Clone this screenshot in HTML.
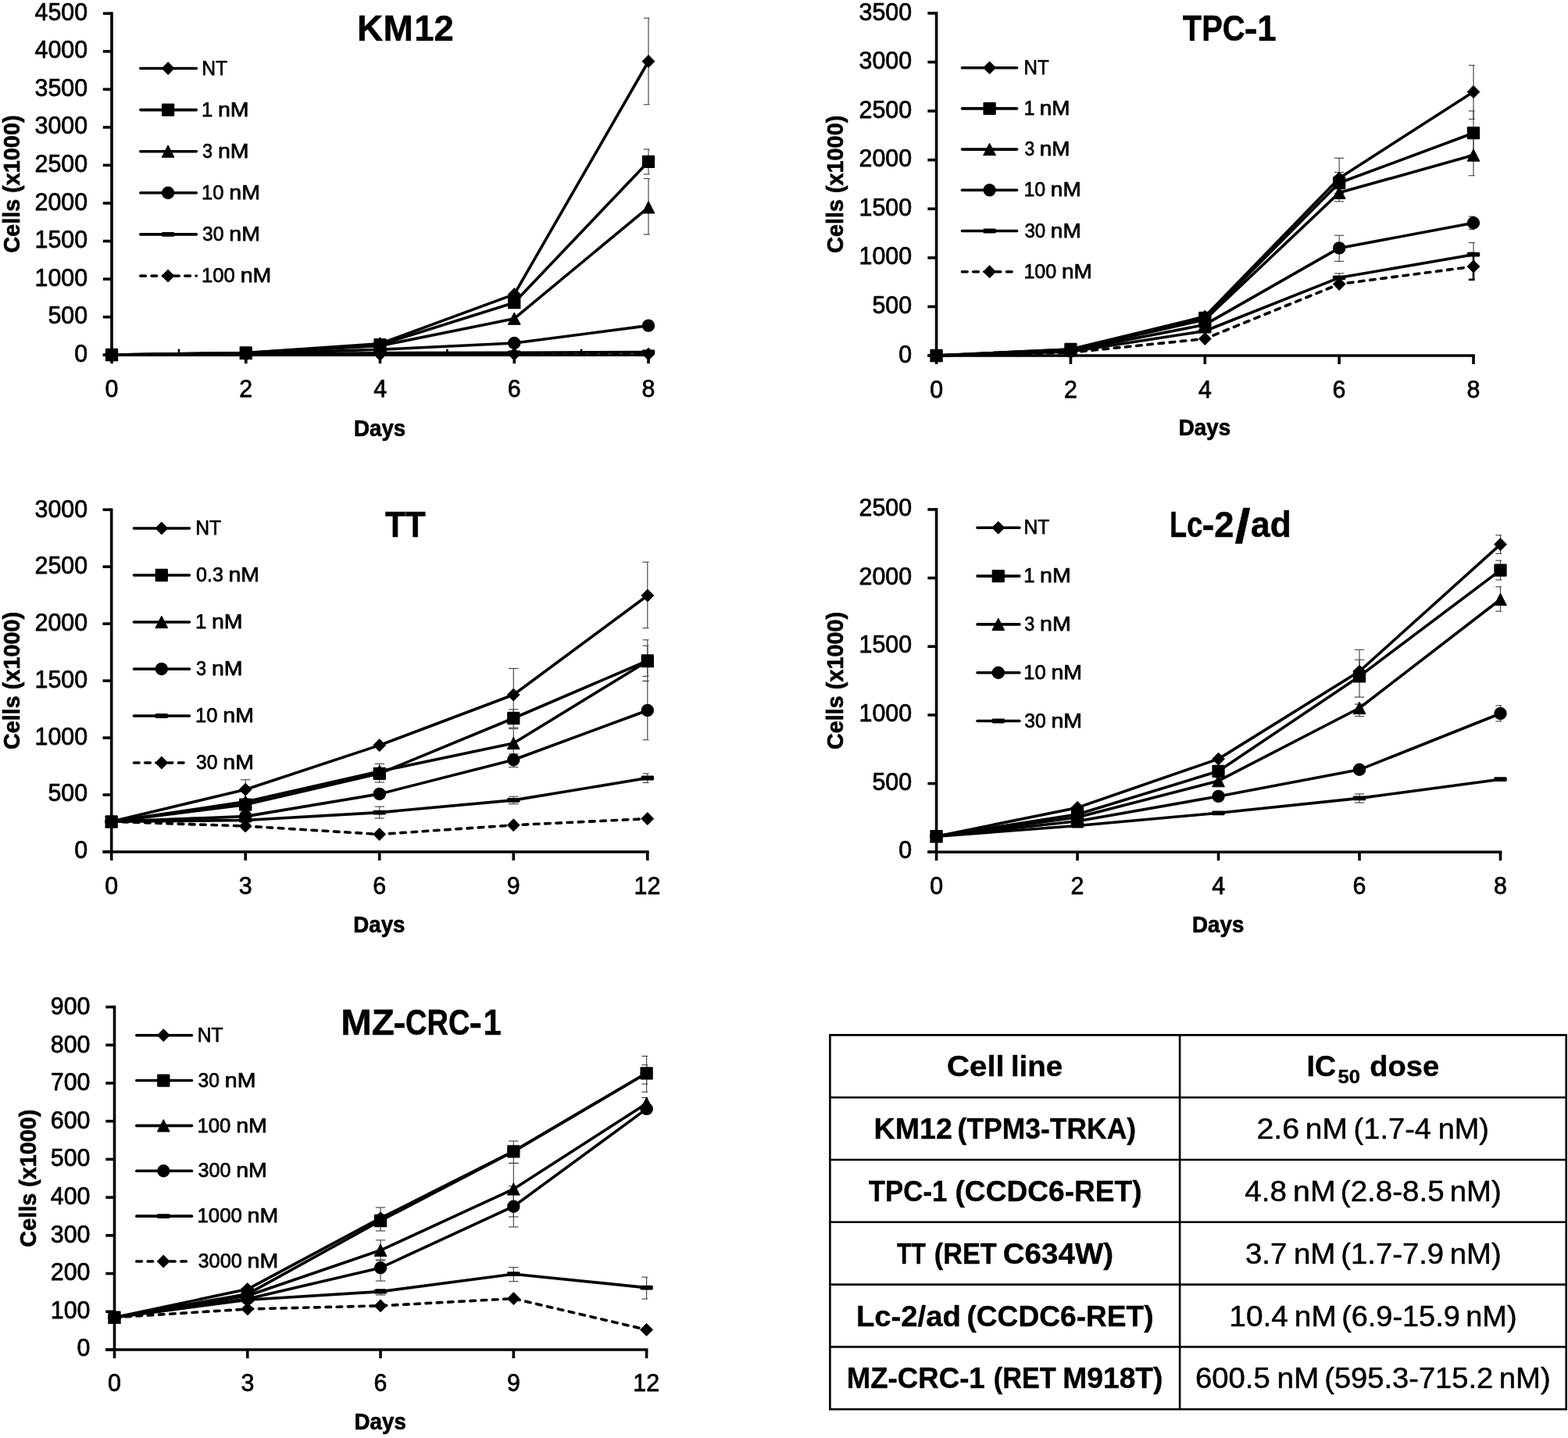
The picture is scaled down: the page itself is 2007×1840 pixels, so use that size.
<!DOCTYPE html>
<html lang="en"><head><meta charset="utf-8"><title>Cell growth curves and IC50 doses</title>
<style>
html,body{margin:0;padding:0;background:#fff;}
body{width:2007px;height:1840px;overflow:hidden;}
svg{display:block;font-family:"Liberation Sans",sans-serif;font-kerning:none;}
text{font-kerning:none;}
</style></head><body>
<svg width="2007" height="1840" viewBox="0 0 2007 1840">
<rect width="2007" height="1840" fill="#fff"/>
<line x1="143.00" y1="15.40" x2="143.00" y2="456.00" stroke="#000" stroke-width="3.60" stroke-linecap="butt"/>
<line x1="131.80" y1="454.20" x2="831.80" y2="454.20" stroke="#000" stroke-width="3.60" stroke-linecap="butt"/>
<line x1="131.80" y1="454.20" x2="143.00" y2="454.20" stroke="#000" stroke-width="3.60" stroke-linecap="butt"/>
<text x="95.28" y="462.80" textLength="16.90" lengthAdjust="spacingAndGlyphs" font-size="30.70" stroke="#000" stroke-width="0.75" stroke-linejoin="round">0</text>
<line x1="131.80" y1="405.64" x2="143.00" y2="405.64" stroke="#000" stroke-width="3.60" stroke-linecap="butt"/>
<text x="61.48" y="414.24" textLength="50.71" lengthAdjust="spacingAndGlyphs" font-size="30.70" stroke="#000" stroke-width="0.75" stroke-linejoin="round">500</text>
<line x1="131.80" y1="357.09" x2="143.00" y2="357.09" stroke="#000" stroke-width="3.60" stroke-linecap="butt"/>
<text x="44.57" y="365.69" textLength="67.61" lengthAdjust="spacingAndGlyphs" font-size="30.70" stroke="#000" stroke-width="0.75" stroke-linejoin="round">1000</text>
<line x1="131.80" y1="308.53" x2="143.00" y2="308.53" stroke="#000" stroke-width="3.60" stroke-linecap="butt"/>
<text x="44.57" y="317.13" textLength="67.61" lengthAdjust="spacingAndGlyphs" font-size="30.70" stroke="#000" stroke-width="0.75" stroke-linejoin="round">1500</text>
<line x1="131.80" y1="259.98" x2="143.00" y2="259.98" stroke="#000" stroke-width="3.60" stroke-linecap="butt"/>
<text x="44.57" y="268.58" textLength="67.61" lengthAdjust="spacingAndGlyphs" font-size="30.70" stroke="#000" stroke-width="0.75" stroke-linejoin="round">2000</text>
<line x1="131.80" y1="211.42" x2="143.00" y2="211.42" stroke="#000" stroke-width="3.60" stroke-linecap="butt"/>
<text x="44.57" y="220.02" textLength="67.61" lengthAdjust="spacingAndGlyphs" font-size="30.70" stroke="#000" stroke-width="0.75" stroke-linejoin="round">2500</text>
<line x1="131.80" y1="162.87" x2="143.00" y2="162.87" stroke="#000" stroke-width="3.60" stroke-linecap="butt"/>
<text x="44.57" y="171.47" textLength="67.61" lengthAdjust="spacingAndGlyphs" font-size="30.70" stroke="#000" stroke-width="0.75" stroke-linejoin="round">3000</text>
<line x1="131.80" y1="114.31" x2="143.00" y2="114.31" stroke="#000" stroke-width="3.60" stroke-linecap="butt"/>
<text x="44.57" y="122.91" textLength="67.61" lengthAdjust="spacingAndGlyphs" font-size="30.70" stroke="#000" stroke-width="0.75" stroke-linejoin="round">3500</text>
<line x1="131.80" y1="65.76" x2="143.00" y2="65.76" stroke="#000" stroke-width="3.60" stroke-linecap="butt"/>
<text x="44.57" y="74.36" textLength="67.61" lengthAdjust="spacingAndGlyphs" font-size="30.70" stroke="#000" stroke-width="0.75" stroke-linejoin="round">4000</text>
<line x1="131.80" y1="17.20" x2="143.00" y2="17.20" stroke="#000" stroke-width="3.60" stroke-linecap="butt"/>
<text x="44.57" y="25.80" textLength="67.61" lengthAdjust="spacingAndGlyphs" font-size="30.70" stroke="#000" stroke-width="0.75" stroke-linejoin="round">4500</text>
<line x1="143.00" y1="454.20" x2="143.00" y2="465.20" stroke="#000" stroke-width="3.60" stroke-linecap="butt"/>
<text x="134.55" y="507.80" textLength="16.90" lengthAdjust="spacingAndGlyphs" font-size="30.70" stroke="#000" stroke-width="0.75" stroke-linejoin="round">0</text>
<line x1="314.75" y1="454.20" x2="314.75" y2="465.20" stroke="#000" stroke-width="3.60" stroke-linecap="butt"/>
<text x="306.30" y="507.80" textLength="16.90" lengthAdjust="spacingAndGlyphs" font-size="30.70" stroke="#000" stroke-width="0.75" stroke-linejoin="round">2</text>
<line x1="486.50" y1="454.20" x2="486.50" y2="465.20" stroke="#000" stroke-width="3.60" stroke-linecap="butt"/>
<text x="478.14" y="507.80" textLength="16.90" lengthAdjust="spacingAndGlyphs" font-size="30.70" stroke="#000" stroke-width="0.75" stroke-linejoin="round">4</text>
<line x1="658.25" y1="454.20" x2="658.25" y2="465.20" stroke="#000" stroke-width="3.60" stroke-linecap="butt"/>
<text x="649.69" y="507.80" textLength="16.90" lengthAdjust="spacingAndGlyphs" font-size="30.70" stroke="#000" stroke-width="0.75" stroke-linejoin="round">6</text>
<line x1="830.00" y1="454.20" x2="830.00" y2="465.20" stroke="#000" stroke-width="3.60" stroke-linecap="butt"/>
<text x="821.55" y="507.80" textLength="16.90" lengthAdjust="spacingAndGlyphs" font-size="30.70" stroke="#000" stroke-width="0.75" stroke-linejoin="round">8</text>
<line x1="229.00" y1="446.60" x2="229.00" y2="454.20" stroke="#000" stroke-width="2.60" stroke-linecap="butt"/>
<line x1="400.60" y1="446.60" x2="400.60" y2="454.20" stroke="#000" stroke-width="2.60" stroke-linecap="butt"/>
<line x1="572.40" y1="446.60" x2="572.40" y2="454.20" stroke="#000" stroke-width="2.60" stroke-linecap="butt"/>
<line x1="744.10" y1="446.60" x2="744.10" y2="454.20" stroke="#000" stroke-width="2.60" stroke-linecap="butt"/>
<text x="453.05" y="558.00" textLength="66.19" lengthAdjust="spacingAndGlyphs" font-size="30.40" font-weight="700" stroke="#000" stroke-width="0.70" stroke-linejoin="round">Days</text>
<text transform="translate(24.60 235.70) rotate(-90)" x="-87.93" y="0" textLength="176.12" lengthAdjust="spacingAndGlyphs" font-size="30.40" font-weight="700" stroke="#000" stroke-width="0.70" stroke-linejoin="round">Cells (x1000)</text>
<text y="52.00" font-size="46.90" font-weight="700" stroke="#000" stroke-width="0.50" stroke-linejoin="round"><tspan x="457.10" textLength="71.70" lengthAdjust="spacingAndGlyphs">KM</tspan><tspan x="530.27" textLength="50.47" lengthAdjust="spacingAndGlyphs">12</tspan></text>
<line x1="830.00" y1="23.20" x2="830.00" y2="133.80" stroke="#454545" stroke-width="1.15" stroke-linecap="butt"/>
<line x1="823.80" y1="23.20" x2="831.70" y2="23.20" stroke="#454545" stroke-width="1.15" stroke-linecap="butt"/>
<line x1="823.80" y1="133.80" x2="831.70" y2="133.80" stroke="#454545" stroke-width="1.15" stroke-linecap="butt"/>
<line x1="830.00" y1="191.00" x2="830.00" y2="223.00" stroke="#454545" stroke-width="1.15" stroke-linecap="butt"/>
<line x1="823.80" y1="191.00" x2="831.70" y2="191.00" stroke="#454545" stroke-width="1.15" stroke-linecap="butt"/>
<line x1="823.80" y1="223.00" x2="831.70" y2="223.00" stroke="#454545" stroke-width="1.15" stroke-linecap="butt"/>
<line x1="830.00" y1="228.50" x2="830.00" y2="300.00" stroke="#454545" stroke-width="1.15" stroke-linecap="butt"/>
<line x1="823.80" y1="228.50" x2="831.70" y2="228.50" stroke="#454545" stroke-width="1.15" stroke-linecap="butt"/>
<line x1="823.80" y1="300.00" x2="831.70" y2="300.00" stroke="#454545" stroke-width="1.15" stroke-linecap="butt"/>
<polyline fill="none" stroke="#000" stroke-width="3.60" stroke-linejoin="round" stroke-linecap="round" points="143.00,454.00 314.75,451.50 486.50,439.80 658.25,376.60 830.00,78.50"/>
<path d="M143.00 446.00L150.90 454.00L143.00 462.00L135.10 454.00Z" stroke-linejoin="round" stroke="#000" stroke-width="1"/>
<path d="M314.75 443.50L322.65 451.50L314.75 459.50L306.85 451.50Z" stroke-linejoin="round" stroke="#000" stroke-width="1"/>
<path d="M486.50 431.80L494.40 439.80L486.50 447.80L478.60 439.80Z" stroke-linejoin="round" stroke="#000" stroke-width="1"/>
<path d="M658.25 368.60L666.15 376.60L658.25 384.60L650.35 376.60Z" stroke-linejoin="round" stroke="#000" stroke-width="1"/>
<path d="M830.00 70.50L837.90 78.50L830.00 86.50L822.10 78.50Z" stroke-linejoin="round" stroke="#000" stroke-width="1"/>
<polyline fill="none" stroke="#000" stroke-width="3.60" stroke-linejoin="round" stroke-linecap="round" points="143.00,454.00 314.75,451.50 486.50,441.20 658.25,387.20 830.00,206.80"/>
<rect x="134.85" y="445.85" width="16.30" height="16.30" rx="1.2"/>
<rect x="306.60" y="443.35" width="16.30" height="16.30" rx="1.2"/>
<rect x="478.35" y="433.05" width="16.30" height="16.30" rx="1.2"/>
<rect x="650.10" y="379.05" width="16.30" height="16.30" rx="1.2"/>
<rect x="821.85" y="198.65" width="16.30" height="16.30" rx="1.2"/>
<polyline fill="none" stroke="#000" stroke-width="3.60" stroke-linejoin="round" stroke-linecap="round" points="143.00,454.00 314.75,452.00 486.50,442.50 658.25,407.70 830.00,265.30"/>
<path d="M143.00 446.10L150.90 461.60L135.10 461.60Z" stroke-linejoin="round" stroke="#000" stroke-width="1"/>
<path d="M314.75 444.10L322.65 459.60L306.85 459.60Z" stroke-linejoin="round" stroke="#000" stroke-width="1"/>
<path d="M486.50 434.60L494.40 450.10L478.60 450.10Z" stroke-linejoin="round" stroke="#000" stroke-width="1"/>
<path d="M658.25 399.80L666.15 415.30L650.35 415.30Z" stroke-linejoin="round" stroke="#000" stroke-width="1"/>
<path d="M830.00 257.40L837.90 272.90L822.10 272.90Z" stroke-linejoin="round" stroke="#000" stroke-width="1"/>
<polyline fill="none" stroke="#000" stroke-width="3.60" stroke-linejoin="round" stroke-linecap="round" points="143.00,454.00 314.75,452.50 486.50,447.30 658.25,439.00 830.00,416.60"/>
<circle cx="143.00" cy="454.00" r="8.20"/>
<circle cx="314.75" cy="452.50" r="8.20"/>
<circle cx="486.50" cy="447.30" r="8.20"/>
<circle cx="658.25" cy="439.00" r="8.20"/>
<circle cx="830.00" cy="416.60" r="8.20"/>
<polyline fill="none" stroke="#000" stroke-width="3.60" stroke-linejoin="round" stroke-linecap="round" points="143.00,454.00 314.75,453.00 486.50,451.70 658.25,451.30 830.00,450.50"/>
<rect x="134.80" y="451.10" width="16.40" height="5.80" rx="1.4"/>
<rect x="306.55" y="450.10" width="16.40" height="5.80" rx="1.4"/>
<rect x="478.30" y="448.80" width="16.40" height="5.80" rx="1.4"/>
<rect x="650.05" y="448.40" width="16.40" height="5.80" rx="1.4"/>
<rect x="821.80" y="447.60" width="16.40" height="5.80" rx="1.4"/>
<polyline fill="none" stroke="#000" stroke-width="3.60" stroke-linejoin="round" stroke-linecap="round" stroke-dasharray="6.6 7.65" points="143.00,454.00 314.75,453.80 486.50,453.50 658.25,453.20 830.00,453.00"/>
<path d="M143.00 446.00L150.90 454.00L143.00 462.00L135.10 454.00Z" stroke-linejoin="round" stroke="#000" stroke-width="1"/>
<path d="M314.75 445.80L322.65 453.80L314.75 461.80L306.85 453.80Z" stroke-linejoin="round" stroke="#000" stroke-width="1"/>
<path d="M486.50 445.50L494.40 453.50L486.50 461.50L478.60 453.50Z" stroke-linejoin="round" stroke="#000" stroke-width="1"/>
<path d="M658.25 445.20L666.15 453.20L658.25 461.20L650.35 453.20Z" stroke-linejoin="round" stroke="#000" stroke-width="1"/>
<path d="M830.00 445.00L837.90 453.00L830.00 461.00L822.10 453.00Z" stroke-linejoin="round" stroke="#000" stroke-width="1"/>
<line x1="179.80" y1="87.50" x2="251.30" y2="87.50" stroke="#000" stroke-width="3.60" stroke-linecap="round"/>
<path d="M215.10 79.50L223.00 87.50L215.10 95.50L207.20 87.50Z" stroke-linejoin="round" stroke="#000" stroke-width="1"/>
<text y="95.60" font-size="26.30" stroke="#000" stroke-width="0.75" stroke-linejoin="round"><tspan x="258.18" textLength="32.89" lengthAdjust="spacingAndGlyphs">NT</tspan></text>
<line x1="179.80" y1="140.60" x2="251.30" y2="140.60" stroke="#000" stroke-width="3.60" stroke-linecap="round"/>
<rect x="206.95" y="132.45" width="16.30" height="16.30" rx="1.2"/>
<text y="148.70" font-size="26.30" stroke="#000" stroke-width="0.75" stroke-linejoin="round"><tspan x="258.04" textLength="14.32" lengthAdjust="spacingAndGlyphs">1</tspan> <tspan x="278.91" textLength="39.64" lengthAdjust="spacingAndGlyphs">nM</tspan></text>
<line x1="179.80" y1="193.70" x2="251.30" y2="193.70" stroke="#000" stroke-width="3.60" stroke-linecap="round"/>
<path d="M215.10 185.80L223.00 201.30L207.20 201.30Z" stroke-linejoin="round" stroke="#000" stroke-width="1"/>
<text y="201.80" font-size="26.30" stroke="#000" stroke-width="0.75" stroke-linejoin="round"><tspan x="259.11" textLength="13.02" lengthAdjust="spacingAndGlyphs">3</tspan> <tspan x="278.91" textLength="39.64" lengthAdjust="spacingAndGlyphs">nM</tspan></text>
<line x1="179.80" y1="246.80" x2="251.30" y2="246.80" stroke="#000" stroke-width="3.60" stroke-linecap="round"/>
<circle cx="215.10" cy="246.80" r="8.20"/>
<text y="254.90" font-size="26.30" stroke="#000" stroke-width="0.75" stroke-linejoin="round"><tspan x="258.05" textLength="28.45" lengthAdjust="spacingAndGlyphs">10</tspan> <tspan x="293.31" textLength="39.64" lengthAdjust="spacingAndGlyphs">nM</tspan></text>
<line x1="179.80" y1="299.90" x2="251.30" y2="299.90" stroke="#000" stroke-width="3.60" stroke-linecap="round"/>
<rect x="206.90" y="297.00" width="16.40" height="5.80" rx="1.4"/>
<text y="308.00" font-size="26.30" stroke="#000" stroke-width="0.75" stroke-linejoin="round"><tspan x="259.06" textLength="27.40" lengthAdjust="spacingAndGlyphs">30</tspan> <tspan x="293.31" textLength="39.64" lengthAdjust="spacingAndGlyphs">nM</tspan></text>
<line x1="179.80" y1="353.00" x2="251.30" y2="353.00" stroke="#000" stroke-width="3.60" stroke-linecap="round" stroke-dasharray="6.6 7.65"/>
<path d="M215.10 345.00L223.00 353.00L215.10 361.00L207.20 353.00Z" stroke-linejoin="round" stroke="#000" stroke-width="1"/>
<text y="361.10" font-size="26.30" stroke="#000" stroke-width="0.75" stroke-linejoin="round"><tspan x="258.04" textLength="42.86" lengthAdjust="spacingAndGlyphs">100</tspan> <tspan x="307.71" textLength="39.64" lengthAdjust="spacingAndGlyphs">nM</tspan></text>
<line x1="1198.60" y1="15.10" x2="1198.60" y2="456.80" stroke="#000" stroke-width="3.60" stroke-linecap="butt"/>
<line x1="1187.40" y1="455.00" x2="1887.80" y2="455.00" stroke="#000" stroke-width="3.60" stroke-linecap="butt"/>
<line x1="1187.40" y1="455.00" x2="1198.60" y2="455.00" stroke="#000" stroke-width="3.60" stroke-linecap="butt"/>
<text x="1150.28" y="463.60" textLength="16.90" lengthAdjust="spacingAndGlyphs" font-size="30.70" stroke="#000" stroke-width="0.75" stroke-linejoin="round">0</text>
<line x1="1187.40" y1="392.41" x2="1198.60" y2="392.41" stroke="#000" stroke-width="3.60" stroke-linecap="butt"/>
<text x="1116.48" y="401.01" textLength="50.71" lengthAdjust="spacingAndGlyphs" font-size="30.70" stroke="#000" stroke-width="0.75" stroke-linejoin="round">500</text>
<line x1="1187.40" y1="329.83" x2="1198.60" y2="329.83" stroke="#000" stroke-width="3.60" stroke-linecap="butt"/>
<text x="1099.57" y="338.43" textLength="67.61" lengthAdjust="spacingAndGlyphs" font-size="30.70" stroke="#000" stroke-width="0.75" stroke-linejoin="round">1000</text>
<line x1="1187.40" y1="267.24" x2="1198.60" y2="267.24" stroke="#000" stroke-width="3.60" stroke-linecap="butt"/>
<text x="1099.57" y="275.84" textLength="67.61" lengthAdjust="spacingAndGlyphs" font-size="30.70" stroke="#000" stroke-width="0.75" stroke-linejoin="round">1500</text>
<line x1="1187.40" y1="204.66" x2="1198.60" y2="204.66" stroke="#000" stroke-width="3.60" stroke-linecap="butt"/>
<text x="1099.57" y="213.26" textLength="67.61" lengthAdjust="spacingAndGlyphs" font-size="30.70" stroke="#000" stroke-width="0.75" stroke-linejoin="round">2000</text>
<line x1="1187.40" y1="142.07" x2="1198.60" y2="142.07" stroke="#000" stroke-width="3.60" stroke-linecap="butt"/>
<text x="1099.57" y="150.67" textLength="67.61" lengthAdjust="spacingAndGlyphs" font-size="30.70" stroke="#000" stroke-width="0.75" stroke-linejoin="round">2500</text>
<line x1="1187.40" y1="79.49" x2="1198.60" y2="79.49" stroke="#000" stroke-width="3.60" stroke-linecap="butt"/>
<text x="1099.57" y="88.09" textLength="67.61" lengthAdjust="spacingAndGlyphs" font-size="30.70" stroke="#000" stroke-width="0.75" stroke-linejoin="round">3000</text>
<line x1="1187.40" y1="16.90" x2="1198.60" y2="16.90" stroke="#000" stroke-width="3.60" stroke-linecap="butt"/>
<text x="1099.57" y="25.50" textLength="67.61" lengthAdjust="spacingAndGlyphs" font-size="30.70" stroke="#000" stroke-width="0.75" stroke-linejoin="round">3500</text>
<line x1="1198.60" y1="455.00" x2="1198.60" y2="466.00" stroke="#000" stroke-width="3.60" stroke-linecap="butt"/>
<text x="1190.15" y="508.60" textLength="16.90" lengthAdjust="spacingAndGlyphs" font-size="30.70" stroke="#000" stroke-width="0.75" stroke-linejoin="round">0</text>
<line x1="1370.45" y1="455.00" x2="1370.45" y2="466.00" stroke="#000" stroke-width="3.60" stroke-linecap="butt"/>
<text x="1362.00" y="508.60" textLength="16.90" lengthAdjust="spacingAndGlyphs" font-size="30.70" stroke="#000" stroke-width="0.75" stroke-linejoin="round">2</text>
<line x1="1542.30" y1="455.00" x2="1542.30" y2="466.00" stroke="#000" stroke-width="3.60" stroke-linecap="butt"/>
<text x="1533.94" y="508.60" textLength="16.90" lengthAdjust="spacingAndGlyphs" font-size="30.70" stroke="#000" stroke-width="0.75" stroke-linejoin="round">4</text>
<line x1="1714.15" y1="455.00" x2="1714.15" y2="466.00" stroke="#000" stroke-width="3.60" stroke-linecap="butt"/>
<text x="1705.59" y="508.60" textLength="16.90" lengthAdjust="spacingAndGlyphs" font-size="30.70" stroke="#000" stroke-width="0.75" stroke-linejoin="round">6</text>
<line x1="1886.00" y1="455.00" x2="1886.00" y2="466.00" stroke="#000" stroke-width="3.60" stroke-linecap="butt"/>
<text x="1877.55" y="508.60" textLength="16.90" lengthAdjust="spacingAndGlyphs" font-size="30.70" stroke="#000" stroke-width="0.75" stroke-linejoin="round">8</text>
<text x="1508.85" y="557.00" textLength="66.19" lengthAdjust="spacingAndGlyphs" font-size="30.40" font-weight="700" stroke="#000" stroke-width="0.70" stroke-linejoin="round">Days</text>
<text transform="translate(1079.00 235.95) rotate(-90)" x="-87.93" y="0" textLength="176.12" lengthAdjust="spacingAndGlyphs" font-size="30.40" font-weight="700" stroke="#000" stroke-width="0.70" stroke-linejoin="round">Cells (x1000)</text>
<text y="52.00" font-size="46.90" font-weight="700" stroke="#000" stroke-width="0.50" stroke-linejoin="round"><tspan x="1513.84" textLength="79.87" lengthAdjust="spacingAndGlyphs">TPC</tspan><tspan x="1592.66" textLength="16.94" lengthAdjust="spacingAndGlyphs">-</tspan><tspan x="1609.24" textLength="24.30" lengthAdjust="spacingAndGlyphs">1</tspan></text>
<line x1="1714.15" y1="202.30" x2="1714.15" y2="254.00" stroke="#454545" stroke-width="1.15" stroke-linecap="butt"/>
<line x1="1707.95" y1="202.30" x2="1720.35" y2="202.30" stroke="#454545" stroke-width="1.15" stroke-linecap="butt"/>
<line x1="1707.95" y1="254.00" x2="1720.35" y2="254.00" stroke="#454545" stroke-width="1.15" stroke-linecap="butt"/>
<line x1="1886.00" y1="83.50" x2="1886.00" y2="152.50" stroke="#454545" stroke-width="1.15" stroke-linecap="butt"/>
<line x1="1879.80" y1="83.50" x2="1887.70" y2="83.50" stroke="#454545" stroke-width="1.15" stroke-linecap="butt"/>
<line x1="1879.80" y1="152.50" x2="1887.70" y2="152.50" stroke="#454545" stroke-width="1.15" stroke-linecap="butt"/>
<line x1="1714.15" y1="220.50" x2="1714.15" y2="247.50" stroke="#454545" stroke-width="1.15" stroke-linecap="butt"/>
<line x1="1707.95" y1="220.50" x2="1720.35" y2="220.50" stroke="#454545" stroke-width="1.15" stroke-linecap="butt"/>
<line x1="1707.95" y1="247.50" x2="1720.35" y2="247.50" stroke="#454545" stroke-width="1.15" stroke-linecap="butt"/>
<line x1="1886.00" y1="142.00" x2="1886.00" y2="198.00" stroke="#454545" stroke-width="1.15" stroke-linecap="butt"/>
<line x1="1879.80" y1="142.00" x2="1887.70" y2="142.00" stroke="#454545" stroke-width="1.15" stroke-linecap="butt"/>
<line x1="1879.80" y1="198.00" x2="1887.70" y2="198.00" stroke="#454545" stroke-width="1.15" stroke-linecap="butt"/>
<line x1="1714.15" y1="235.40" x2="1714.15" y2="257.80" stroke="#454545" stroke-width="1.15" stroke-linecap="butt"/>
<line x1="1707.95" y1="235.40" x2="1720.35" y2="235.40" stroke="#454545" stroke-width="1.15" stroke-linecap="butt"/>
<line x1="1707.95" y1="257.80" x2="1720.35" y2="257.80" stroke="#454545" stroke-width="1.15" stroke-linecap="butt"/>
<line x1="1886.00" y1="172.50" x2="1886.00" y2="224.70" stroke="#454545" stroke-width="1.15" stroke-linecap="butt"/>
<line x1="1879.80" y1="172.50" x2="1887.70" y2="172.50" stroke="#454545" stroke-width="1.15" stroke-linecap="butt"/>
<line x1="1879.80" y1="224.70" x2="1887.70" y2="224.70" stroke="#454545" stroke-width="1.15" stroke-linecap="butt"/>
<line x1="1714.15" y1="301.20" x2="1714.15" y2="334.40" stroke="#454545" stroke-width="1.15" stroke-linecap="butt"/>
<line x1="1707.95" y1="301.20" x2="1720.35" y2="301.20" stroke="#454545" stroke-width="1.15" stroke-linecap="butt"/>
<line x1="1707.95" y1="334.40" x2="1720.35" y2="334.40" stroke="#454545" stroke-width="1.15" stroke-linecap="butt"/>
<line x1="1886.00" y1="277.00" x2="1886.00" y2="293.50" stroke="#454545" stroke-width="1.15" stroke-linecap="butt"/>
<line x1="1879.80" y1="277.00" x2="1887.70" y2="277.00" stroke="#454545" stroke-width="1.15" stroke-linecap="butt"/>
<line x1="1879.80" y1="293.50" x2="1887.70" y2="293.50" stroke="#454545" stroke-width="1.15" stroke-linecap="butt"/>
<line x1="1714.15" y1="349.80" x2="1714.15" y2="361.00" stroke="#454545" stroke-width="1.15" stroke-linecap="butt"/>
<line x1="1707.95" y1="349.80" x2="1720.35" y2="349.80" stroke="#454545" stroke-width="1.15" stroke-linecap="butt"/>
<line x1="1707.95" y1="361.00" x2="1720.35" y2="361.00" stroke="#454545" stroke-width="1.15" stroke-linecap="butt"/>
<line x1="1886.00" y1="310.50" x2="1886.00" y2="341.00" stroke="#454545" stroke-width="1.15" stroke-linecap="butt"/>
<line x1="1879.80" y1="310.50" x2="1887.70" y2="310.50" stroke="#454545" stroke-width="1.15" stroke-linecap="butt"/>
<line x1="1879.80" y1="341.00" x2="1887.70" y2="341.00" stroke="#454545" stroke-width="1.15" stroke-linecap="butt"/>
<polyline fill="none" stroke="#000" stroke-width="3.60" stroke-linejoin="round" stroke-linecap="round" points="1198.60,455.00 1370.45,447.00 1542.30,405.00 1714.15,228.00 1886.00,117.60"/>
<path d="M1198.60 447.00L1206.50 455.00L1198.60 463.00L1190.70 455.00Z" stroke-linejoin="round" stroke="#000" stroke-width="1"/>
<path d="M1370.45 439.00L1378.35 447.00L1370.45 455.00L1362.55 447.00Z" stroke-linejoin="round" stroke="#000" stroke-width="1"/>
<path d="M1542.30 397.00L1550.20 405.00L1542.30 413.00L1534.40 405.00Z" stroke-linejoin="round" stroke="#000" stroke-width="1"/>
<path d="M1714.15 220.00L1722.05 228.00L1714.15 236.00L1706.25 228.00Z" stroke-linejoin="round" stroke="#000" stroke-width="1"/>
<path d="M1886.00 109.60L1893.90 117.60L1886.00 125.60L1878.10 117.60Z" stroke-linejoin="round" stroke="#000" stroke-width="1"/>
<polyline fill="none" stroke="#000" stroke-width="3.60" stroke-linejoin="round" stroke-linecap="round" points="1198.60,455.00 1370.45,447.00 1542.30,407.00 1714.15,234.00 1886.00,170.20"/>
<rect x="1190.45" y="446.85" width="16.30" height="16.30" rx="1.2"/>
<rect x="1362.30" y="438.85" width="16.30" height="16.30" rx="1.2"/>
<rect x="1534.15" y="398.85" width="16.30" height="16.30" rx="1.2"/>
<rect x="1706.00" y="225.85" width="16.30" height="16.30" rx="1.2"/>
<rect x="1877.85" y="162.05" width="16.30" height="16.30" rx="1.2"/>
<polyline fill="none" stroke="#000" stroke-width="3.60" stroke-linejoin="round" stroke-linecap="round" points="1198.60,455.00 1370.45,448.00 1542.30,409.00 1714.15,246.60 1886.00,198.60"/>
<path d="M1198.60 447.10L1206.50 462.60L1190.70 462.60Z" stroke-linejoin="round" stroke="#000" stroke-width="1"/>
<path d="M1370.45 440.10L1378.35 455.60L1362.55 455.60Z" stroke-linejoin="round" stroke="#000" stroke-width="1"/>
<path d="M1542.30 401.10L1550.20 416.60L1534.40 416.60Z" stroke-linejoin="round" stroke="#000" stroke-width="1"/>
<path d="M1714.15 238.70L1722.05 254.20L1706.25 254.20Z" stroke-linejoin="round" stroke="#000" stroke-width="1"/>
<path d="M1886.00 190.70L1893.90 206.20L1878.10 206.20Z" stroke-linejoin="round" stroke="#000" stroke-width="1"/>
<polyline fill="none" stroke="#000" stroke-width="3.60" stroke-linejoin="round" stroke-linecap="round" points="1198.60,455.00 1370.45,449.00 1542.30,415.40 1714.15,317.40 1886.00,285.30"/>
<circle cx="1198.60" cy="455.00" r="8.20"/>
<circle cx="1370.45" cy="449.00" r="8.20"/>
<circle cx="1542.30" cy="415.40" r="8.20"/>
<circle cx="1714.15" cy="317.40" r="8.20"/>
<circle cx="1886.00" cy="285.30" r="8.20"/>
<polyline fill="none" stroke="#000" stroke-width="3.60" stroke-linejoin="round" stroke-linecap="round" points="1198.60,455.00 1370.45,450.00 1542.30,423.50 1714.15,355.30 1886.00,325.70"/>
<rect x="1190.40" y="452.10" width="16.40" height="5.80" rx="1.4"/>
<rect x="1362.25" y="447.10" width="16.40" height="5.80" rx="1.4"/>
<rect x="1534.10" y="420.60" width="16.40" height="5.80" rx="1.4"/>
<rect x="1705.95" y="352.40" width="16.40" height="5.80" rx="1.4"/>
<rect x="1877.80" y="322.80" width="16.40" height="5.80" rx="1.4"/>
<polyline fill="none" stroke="#000" stroke-width="3.60" stroke-linejoin="round" stroke-linecap="round" stroke-dasharray="6.6 7.65" points="1198.60,455.00 1370.45,451.00 1542.30,433.50 1714.15,363.50 1886.00,341.00"/>
<line x1="1886.00" y1="324.00" x2="1886.00" y2="357.80" stroke="#000" stroke-width="2.60" stroke-linecap="butt"/>
<line x1="1879.80" y1="324.00" x2="1887.70" y2="324.00" stroke="#000" stroke-width="2.60" stroke-linecap="butt"/>
<line x1="1879.80" y1="357.80" x2="1887.70" y2="357.80" stroke="#000" stroke-width="2.60" stroke-linecap="butt"/>
<path d="M1198.60 447.00L1206.50 455.00L1198.60 463.00L1190.70 455.00Z" stroke-linejoin="round" stroke="#000" stroke-width="1"/>
<path d="M1370.45 443.00L1378.35 451.00L1370.45 459.00L1362.55 451.00Z" stroke-linejoin="round" stroke="#000" stroke-width="1"/>
<path d="M1542.30 425.50L1550.20 433.50L1542.30 441.50L1534.40 433.50Z" stroke-linejoin="round" stroke="#000" stroke-width="1"/>
<path d="M1714.15 355.50L1722.05 363.50L1714.15 371.50L1706.25 363.50Z" stroke-linejoin="round" stroke="#000" stroke-width="1"/>
<path d="M1886.00 333.00L1893.90 341.00L1886.00 349.00L1878.10 341.00Z" stroke-linejoin="round" stroke="#000" stroke-width="1"/>
<line x1="1231.50" y1="86.70" x2="1301.60" y2="86.70" stroke="#000" stroke-width="3.60" stroke-linecap="round"/>
<path d="M1266.60 78.70L1274.50 86.70L1266.60 94.70L1258.70 86.70Z" stroke-linejoin="round" stroke="#000" stroke-width="1"/>
<text y="94.80" font-size="26.30" stroke="#000" stroke-width="0.75" stroke-linejoin="round"><tspan x="1310.52" textLength="32.16" lengthAdjust="spacingAndGlyphs">NT</tspan></text>
<line x1="1231.50" y1="138.90" x2="1301.60" y2="138.90" stroke="#000" stroke-width="3.60" stroke-linecap="round"/>
<rect x="1258.45" y="130.75" width="16.30" height="16.30" rx="1.2"/>
<text y="147.00" font-size="26.30" stroke="#000" stroke-width="0.75" stroke-linejoin="round"><tspan x="1310.38" textLength="14.00" lengthAdjust="spacingAndGlyphs">1</tspan> <tspan x="1330.79" textLength="38.76" lengthAdjust="spacingAndGlyphs">nM</tspan></text>
<line x1="1231.50" y1="191.10" x2="1301.60" y2="191.10" stroke="#000" stroke-width="3.60" stroke-linecap="round"/>
<path d="M1266.60 183.20L1274.50 198.70L1258.70 198.70Z" stroke-linejoin="round" stroke="#000" stroke-width="1"/>
<text y="199.20" font-size="26.30" stroke="#000" stroke-width="0.75" stroke-linejoin="round"><tspan x="1311.43" textLength="12.73" lengthAdjust="spacingAndGlyphs">3</tspan> <tspan x="1330.79" textLength="38.76" lengthAdjust="spacingAndGlyphs">nM</tspan></text>
<line x1="1231.50" y1="243.30" x2="1301.60" y2="243.30" stroke="#000" stroke-width="3.60" stroke-linecap="round"/>
<circle cx="1266.60" cy="243.30" r="8.20"/>
<text y="251.40" font-size="26.30" stroke="#000" stroke-width="0.75" stroke-linejoin="round"><tspan x="1310.39" textLength="27.82" lengthAdjust="spacingAndGlyphs">10</tspan> <tspan x="1344.87" textLength="38.76" lengthAdjust="spacingAndGlyphs">nM</tspan></text>
<line x1="1231.50" y1="295.50" x2="1301.60" y2="295.50" stroke="#000" stroke-width="3.60" stroke-linecap="round"/>
<rect x="1258.40" y="292.60" width="16.40" height="5.80" rx="1.4"/>
<text y="303.60" font-size="26.30" stroke="#000" stroke-width="0.75" stroke-linejoin="round"><tspan x="1311.38" textLength="26.80" lengthAdjust="spacingAndGlyphs">30</tspan> <tspan x="1344.87" textLength="38.76" lengthAdjust="spacingAndGlyphs">nM</tspan></text>
<line x1="1231.50" y1="347.70" x2="1301.60" y2="347.70" stroke="#000" stroke-width="3.60" stroke-linecap="round" stroke-dasharray="6.6 7.65"/>
<path d="M1266.60 339.70L1274.50 347.70L1266.60 355.70L1258.70 347.70Z" stroke-linejoin="round" stroke="#000" stroke-width="1"/>
<text y="355.80" font-size="26.30" stroke="#000" stroke-width="0.75" stroke-linejoin="round"><tspan x="1310.39" textLength="41.92" lengthAdjust="spacingAndGlyphs">100</tspan> <tspan x="1358.96" textLength="38.76" lengthAdjust="spacingAndGlyphs">nM</tspan></text>
<line x1="142.70" y1="650.40" x2="142.70" y2="1091.80" stroke="#000" stroke-width="3.60" stroke-linecap="butt"/>
<line x1="131.50" y1="1090.00" x2="830.60" y2="1090.00" stroke="#000" stroke-width="3.60" stroke-linecap="butt"/>
<line x1="131.50" y1="1090.00" x2="142.70" y2="1090.00" stroke="#000" stroke-width="3.60" stroke-linecap="butt"/>
<text x="95.28" y="1098.00" textLength="16.90" lengthAdjust="spacingAndGlyphs" font-size="30.70" stroke="#000" stroke-width="0.75" stroke-linejoin="round">0</text>
<line x1="131.50" y1="1017.03" x2="142.70" y2="1017.03" stroke="#000" stroke-width="3.60" stroke-linecap="butt"/>
<text x="61.48" y="1025.27" textLength="50.71" lengthAdjust="spacingAndGlyphs" font-size="30.70" stroke="#000" stroke-width="0.75" stroke-linejoin="round">500</text>
<line x1="131.50" y1="944.07" x2="142.70" y2="944.07" stroke="#000" stroke-width="3.60" stroke-linecap="butt"/>
<text x="44.57" y="952.53" textLength="67.61" lengthAdjust="spacingAndGlyphs" font-size="30.70" stroke="#000" stroke-width="0.75" stroke-linejoin="round">1000</text>
<line x1="131.50" y1="871.10" x2="142.70" y2="871.10" stroke="#000" stroke-width="3.60" stroke-linecap="butt"/>
<text x="44.57" y="879.80" textLength="67.61" lengthAdjust="spacingAndGlyphs" font-size="30.70" stroke="#000" stroke-width="0.75" stroke-linejoin="round">1500</text>
<line x1="131.50" y1="798.13" x2="142.70" y2="798.13" stroke="#000" stroke-width="3.60" stroke-linecap="butt"/>
<text x="44.57" y="807.07" textLength="67.61" lengthAdjust="spacingAndGlyphs" font-size="30.70" stroke="#000" stroke-width="0.75" stroke-linejoin="round">2000</text>
<line x1="131.50" y1="725.17" x2="142.70" y2="725.17" stroke="#000" stroke-width="3.60" stroke-linecap="butt"/>
<text x="44.57" y="734.33" textLength="67.61" lengthAdjust="spacingAndGlyphs" font-size="30.70" stroke="#000" stroke-width="0.75" stroke-linejoin="round">2500</text>
<line x1="131.50" y1="652.20" x2="142.70" y2="652.20" stroke="#000" stroke-width="3.60" stroke-linecap="butt"/>
<text x="44.57" y="661.60" textLength="67.61" lengthAdjust="spacingAndGlyphs" font-size="30.70" stroke="#000" stroke-width="0.75" stroke-linejoin="round">3000</text>
<line x1="142.70" y1="1090.00" x2="142.70" y2="1101.00" stroke="#000" stroke-width="3.60" stroke-linecap="butt"/>
<text x="134.25" y="1143.60" textLength="16.90" lengthAdjust="spacingAndGlyphs" font-size="30.70" stroke="#000" stroke-width="0.75" stroke-linejoin="round">0</text>
<line x1="314.22" y1="1090.00" x2="314.22" y2="1101.00" stroke="#000" stroke-width="3.60" stroke-linecap="butt"/>
<text x="305.86" y="1143.60" textLength="16.90" lengthAdjust="spacingAndGlyphs" font-size="30.70" stroke="#000" stroke-width="0.75" stroke-linejoin="round">3</text>
<line x1="485.75" y1="1090.00" x2="485.75" y2="1101.00" stroke="#000" stroke-width="3.60" stroke-linecap="butt"/>
<text x="477.19" y="1143.60" textLength="16.90" lengthAdjust="spacingAndGlyphs" font-size="30.70" stroke="#000" stroke-width="0.75" stroke-linejoin="round">6</text>
<line x1="657.27" y1="1090.00" x2="657.27" y2="1101.00" stroke="#000" stroke-width="3.60" stroke-linecap="butt"/>
<text x="648.83" y="1143.60" textLength="16.90" lengthAdjust="spacingAndGlyphs" font-size="30.70" stroke="#000" stroke-width="0.75" stroke-linejoin="round">9</text>
<line x1="828.80" y1="1090.00" x2="828.80" y2="1101.00" stroke="#000" stroke-width="3.60" stroke-linecap="butt"/>
<text x="811.50" y="1143.60" textLength="33.81" lengthAdjust="spacingAndGlyphs" font-size="30.70" stroke="#000" stroke-width="0.75" stroke-linejoin="round">12</text>
<text x="452.30" y="1193.00" textLength="66.19" lengthAdjust="spacingAndGlyphs" font-size="30.40" font-weight="700" stroke="#000" stroke-width="0.70" stroke-linejoin="round">Days</text>
<text transform="translate(24.60 871.10) rotate(-90)" x="-87.93" y="0" textLength="176.12" lengthAdjust="spacingAndGlyphs" font-size="30.40" font-weight="700" stroke="#000" stroke-width="0.70" stroke-linejoin="round">Cells (x1000)</text>
<text y="687.20" font-size="46.90" font-weight="700" stroke="#000" stroke-width="0.50" stroke-linejoin="round"><tspan x="492.95" textLength="51.87" lengthAdjust="spacingAndGlyphs">TT</tspan></text>
<line x1="314.22" y1="997.70" x2="314.22" y2="1022.70" stroke="#454545" stroke-width="1.15" stroke-linecap="butt"/>
<line x1="308.02" y1="997.70" x2="320.42" y2="997.70" stroke="#454545" stroke-width="1.15" stroke-linecap="butt"/>
<line x1="308.02" y1="1022.70" x2="320.42" y2="1022.70" stroke="#454545" stroke-width="1.15" stroke-linecap="butt"/>
<line x1="657.27" y1="855.40" x2="657.27" y2="922.60" stroke="#454545" stroke-width="1.15" stroke-linecap="butt"/>
<line x1="651.07" y1="855.40" x2="663.47" y2="855.40" stroke="#454545" stroke-width="1.15" stroke-linecap="butt"/>
<line x1="651.07" y1="922.60" x2="663.47" y2="922.60" stroke="#454545" stroke-width="1.15" stroke-linecap="butt"/>
<line x1="828.80" y1="719.20" x2="828.80" y2="803.60" stroke="#454545" stroke-width="1.15" stroke-linecap="butt"/>
<line x1="822.60" y1="719.20" x2="830.50" y2="719.20" stroke="#454545" stroke-width="1.15" stroke-linecap="butt"/>
<line x1="822.60" y1="803.60" x2="830.50" y2="803.60" stroke="#454545" stroke-width="1.15" stroke-linecap="butt"/>
<line x1="485.75" y1="977.30" x2="485.75" y2="1001.00" stroke="#454545" stroke-width="1.15" stroke-linecap="butt"/>
<line x1="479.55" y1="977.30" x2="491.95" y2="977.30" stroke="#454545" stroke-width="1.15" stroke-linecap="butt"/>
<line x1="479.55" y1="1001.00" x2="491.95" y2="1001.00" stroke="#454545" stroke-width="1.15" stroke-linecap="butt"/>
<line x1="657.27" y1="907.70" x2="657.27" y2="931.00" stroke="#454545" stroke-width="1.15" stroke-linecap="butt"/>
<line x1="651.07" y1="907.70" x2="663.47" y2="907.70" stroke="#454545" stroke-width="1.15" stroke-linecap="butt"/>
<line x1="651.07" y1="931.00" x2="663.47" y2="931.00" stroke="#454545" stroke-width="1.15" stroke-linecap="butt"/>
<line x1="828.80" y1="818.80" x2="828.80" y2="871.60" stroke="#454545" stroke-width="1.15" stroke-linecap="butt"/>
<line x1="822.60" y1="818.80" x2="830.50" y2="818.80" stroke="#454545" stroke-width="1.15" stroke-linecap="butt"/>
<line x1="822.60" y1="871.60" x2="830.50" y2="871.60" stroke="#454545" stroke-width="1.15" stroke-linecap="butt"/>
<line x1="657.27" y1="932.50" x2="657.27" y2="969.00" stroke="#454545" stroke-width="1.15" stroke-linecap="butt"/>
<line x1="651.07" y1="932.50" x2="663.47" y2="932.50" stroke="#454545" stroke-width="1.15" stroke-linecap="butt"/>
<line x1="651.07" y1="969.00" x2="663.47" y2="969.00" stroke="#454545" stroke-width="1.15" stroke-linecap="butt"/>
<line x1="828.80" y1="826.30" x2="828.80" y2="865.40" stroke="#454545" stroke-width="1.15" stroke-linecap="butt"/>
<line x1="822.60" y1="826.30" x2="830.50" y2="826.30" stroke="#454545" stroke-width="1.15" stroke-linecap="butt"/>
<line x1="822.60" y1="865.40" x2="830.50" y2="865.40" stroke="#454545" stroke-width="1.15" stroke-linecap="butt"/>
<line x1="657.27" y1="964.80" x2="657.27" y2="981.50" stroke="#454545" stroke-width="1.15" stroke-linecap="butt"/>
<line x1="651.07" y1="964.80" x2="663.47" y2="964.80" stroke="#454545" stroke-width="1.15" stroke-linecap="butt"/>
<line x1="651.07" y1="981.50" x2="663.47" y2="981.50" stroke="#454545" stroke-width="1.15" stroke-linecap="butt"/>
<line x1="828.80" y1="871.30" x2="828.80" y2="946.70" stroke="#454545" stroke-width="1.15" stroke-linecap="butt"/>
<line x1="822.60" y1="871.30" x2="830.50" y2="871.30" stroke="#454545" stroke-width="1.15" stroke-linecap="butt"/>
<line x1="822.60" y1="946.70" x2="830.50" y2="946.70" stroke="#454545" stroke-width="1.15" stroke-linecap="butt"/>
<line x1="485.75" y1="1032.10" x2="485.75" y2="1047.00" stroke="#454545" stroke-width="1.15" stroke-linecap="butt"/>
<line x1="479.55" y1="1032.10" x2="491.95" y2="1032.10" stroke="#454545" stroke-width="1.15" stroke-linecap="butt"/>
<line x1="479.55" y1="1047.00" x2="491.95" y2="1047.00" stroke="#454545" stroke-width="1.15" stroke-linecap="butt"/>
<line x1="657.27" y1="1019.20" x2="657.27" y2="1028.60" stroke="#454545" stroke-width="1.15" stroke-linecap="butt"/>
<line x1="651.07" y1="1019.20" x2="663.47" y2="1019.20" stroke="#454545" stroke-width="1.15" stroke-linecap="butt"/>
<line x1="651.07" y1="1028.60" x2="663.47" y2="1028.60" stroke="#454545" stroke-width="1.15" stroke-linecap="butt"/>
<line x1="828.80" y1="989.80" x2="828.80" y2="1001.50" stroke="#454545" stroke-width="1.15" stroke-linecap="butt"/>
<line x1="822.60" y1="989.80" x2="830.50" y2="989.80" stroke="#454545" stroke-width="1.15" stroke-linecap="butt"/>
<line x1="822.60" y1="1001.50" x2="830.50" y2="1001.50" stroke="#454545" stroke-width="1.15" stroke-linecap="butt"/>
<polyline fill="none" stroke="#000" stroke-width="3.60" stroke-linejoin="round" stroke-linecap="round" points="142.70,1051.30 314.22,1010.20 485.75,953.60 657.27,889.00 828.80,762.00"/>
<path d="M142.70 1043.30L150.60 1051.30L142.70 1059.30L134.80 1051.30Z" stroke-linejoin="round" stroke="#000" stroke-width="1"/>
<path d="M314.22 1002.20L322.12 1010.20L314.22 1018.20L306.32 1010.20Z" stroke-linejoin="round" stroke="#000" stroke-width="1"/>
<path d="M485.75 945.60L493.65 953.60L485.75 961.60L477.85 953.60Z" stroke-linejoin="round" stroke="#000" stroke-width="1"/>
<path d="M657.27 881.00L665.17 889.00L657.27 897.00L649.37 889.00Z" stroke-linejoin="round" stroke="#000" stroke-width="1"/>
<path d="M828.80 754.00L836.70 762.00L828.80 770.00L820.90 762.00Z" stroke-linejoin="round" stroke="#000" stroke-width="1"/>
<polyline fill="none" stroke="#000" stroke-width="3.60" stroke-linejoin="round" stroke-linecap="round" points="142.70,1051.30 314.22,1029.60 485.75,989.80 657.27,919.00 828.80,845.50"/>
<rect x="134.55" y="1043.15" width="16.30" height="16.30" rx="1.2"/>
<rect x="306.07" y="1021.45" width="16.30" height="16.30" rx="1.2"/>
<rect x="477.60" y="981.65" width="16.30" height="16.30" rx="1.2"/>
<rect x="649.12" y="910.85" width="16.30" height="16.30" rx="1.2"/>
<rect x="820.65" y="837.35" width="16.30" height="16.30" rx="1.2"/>
<polyline fill="none" stroke="#000" stroke-width="3.60" stroke-linejoin="round" stroke-linecap="round" points="142.70,1051.30 314.22,1025.90 485.75,987.00 657.27,951.00 828.80,846.00"/>
<path d="M142.70 1043.40L150.60 1058.90L134.80 1058.90Z" stroke-linejoin="round" stroke="#000" stroke-width="1"/>
<path d="M314.22 1018.00L322.12 1033.50L306.32 1033.50Z" stroke-linejoin="round" stroke="#000" stroke-width="1"/>
<path d="M485.75 979.10L493.65 994.60L477.85 994.60Z" stroke-linejoin="round" stroke="#000" stroke-width="1"/>
<path d="M657.27 943.10L665.17 958.60L649.37 958.60Z" stroke-linejoin="round" stroke="#000" stroke-width="1"/>
<path d="M828.80 838.10L836.70 853.60L820.90 853.60Z" stroke-linejoin="round" stroke="#000" stroke-width="1"/>
<polyline fill="none" stroke="#000" stroke-width="3.60" stroke-linejoin="round" stroke-linecap="round" points="142.70,1051.30 314.22,1044.60 485.75,1015.90 657.27,972.30 828.80,909.00"/>
<circle cx="142.70" cy="1051.30" r="8.20"/>
<circle cx="314.22" cy="1044.60" r="8.20"/>
<circle cx="485.75" cy="1015.90" r="8.20"/>
<circle cx="657.27" cy="972.30" r="8.20"/>
<circle cx="828.80" cy="909.00" r="8.20"/>
<polyline fill="none" stroke="#000" stroke-width="3.60" stroke-linejoin="round" stroke-linecap="round" points="142.70,1051.30 314.22,1049.50 485.75,1039.60 657.27,1023.90 828.80,995.50"/>
<rect x="134.50" y="1048.40" width="16.40" height="5.80" rx="1.4"/>
<rect x="306.02" y="1046.60" width="16.40" height="5.80" rx="1.4"/>
<rect x="477.55" y="1036.70" width="16.40" height="5.80" rx="1.4"/>
<rect x="649.07" y="1021.00" width="16.40" height="5.80" rx="1.4"/>
<rect x="820.60" y="992.60" width="16.40" height="5.80" rx="1.4"/>
<polyline fill="none" stroke="#000" stroke-width="3.60" stroke-linejoin="round" stroke-linecap="round" stroke-dasharray="6.6 7.65" points="142.70,1051.30 314.22,1057.00 485.75,1067.50 657.27,1055.80 828.80,1047.60"/>
<path d="M142.70 1043.30L150.60 1051.30L142.70 1059.30L134.80 1051.30Z" stroke-linejoin="round" stroke="#000" stroke-width="1"/>
<path d="M314.22 1049.00L322.12 1057.00L314.22 1065.00L306.32 1057.00Z" stroke-linejoin="round" stroke="#000" stroke-width="1"/>
<path d="M485.75 1059.50L493.65 1067.50L485.75 1075.50L477.85 1067.50Z" stroke-linejoin="round" stroke="#000" stroke-width="1"/>
<path d="M657.27 1047.80L665.17 1055.80L657.27 1063.80L649.37 1055.80Z" stroke-linejoin="round" stroke="#000" stroke-width="1"/>
<path d="M828.80 1039.60L836.70 1047.60L828.80 1055.60L820.90 1047.60Z" stroke-linejoin="round" stroke="#000" stroke-width="1"/>
<line x1="171.40" y1="676.00" x2="242.50" y2="676.00" stroke="#000" stroke-width="3.60" stroke-linecap="round"/>
<path d="M206.80 668.00L214.70 676.00L206.80 684.00L198.90 676.00Z" stroke-linejoin="round" stroke="#000" stroke-width="1"/>
<text y="684.10" font-size="26.30" stroke="#000" stroke-width="0.75" stroke-linejoin="round"><tspan x="250.18" textLength="32.89" lengthAdjust="spacingAndGlyphs">NT</tspan></text>
<line x1="171.40" y1="736.00" x2="242.50" y2="736.00" stroke="#000" stroke-width="3.60" stroke-linecap="round"/>
<rect x="198.65" y="727.85" width="16.30" height="16.30" rx="1.2"/>
<text y="744.10" font-size="26.30" stroke="#000" stroke-width="0.75" stroke-linejoin="round"><tspan x="251.02" textLength="34.78" lengthAdjust="spacingAndGlyphs">0.3</tspan> <tspan x="292.51" textLength="39.64" lengthAdjust="spacingAndGlyphs">nM</tspan></text>
<line x1="171.40" y1="796.00" x2="242.50" y2="796.00" stroke="#000" stroke-width="3.60" stroke-linecap="round"/>
<path d="M206.80 788.10L214.70 803.60L198.90 803.60Z" stroke-linejoin="round" stroke="#000" stroke-width="1"/>
<text y="804.10" font-size="26.30" stroke="#000" stroke-width="0.75" stroke-linejoin="round"><tspan x="250.04" textLength="14.32" lengthAdjust="spacingAndGlyphs">1</tspan> <tspan x="270.91" textLength="39.64" lengthAdjust="spacingAndGlyphs">nM</tspan></text>
<line x1="171.40" y1="856.00" x2="242.50" y2="856.00" stroke="#000" stroke-width="3.60" stroke-linecap="round"/>
<circle cx="206.80" cy="856.00" r="8.20"/>
<text y="864.10" font-size="26.30" stroke="#000" stroke-width="0.75" stroke-linejoin="round"><tspan x="251.11" textLength="13.02" lengthAdjust="spacingAndGlyphs">3</tspan> <tspan x="270.91" textLength="39.64" lengthAdjust="spacingAndGlyphs">nM</tspan></text>
<line x1="171.40" y1="916.00" x2="242.50" y2="916.00" stroke="#000" stroke-width="3.60" stroke-linecap="round"/>
<rect x="198.60" y="913.10" width="16.40" height="5.80" rx="1.4"/>
<text y="924.10" font-size="26.30" stroke="#000" stroke-width="0.75" stroke-linejoin="round"><tspan x="250.05" textLength="28.45" lengthAdjust="spacingAndGlyphs">10</tspan> <tspan x="285.31" textLength="39.64" lengthAdjust="spacingAndGlyphs">nM</tspan></text>
<line x1="171.40" y1="976.00" x2="242.50" y2="976.00" stroke="#000" stroke-width="3.60" stroke-linecap="round" stroke-dasharray="6.6 7.65"/>
<path d="M206.80 968.00L214.70 976.00L206.80 984.00L198.90 976.00Z" stroke-linejoin="round" stroke="#000" stroke-width="1"/>
<text y="984.10" font-size="26.30" stroke="#000" stroke-width="0.75" stroke-linejoin="round"><tspan x="251.06" textLength="27.40" lengthAdjust="spacingAndGlyphs">30</tspan> <tspan x="285.31" textLength="39.64" lengthAdjust="spacingAndGlyphs">nM</tspan></text>
<line x1="1198.60" y1="650.10" x2="1198.60" y2="1092.00" stroke="#000" stroke-width="3.60" stroke-linecap="butt"/>
<line x1="1187.40" y1="1090.20" x2="1922.30" y2="1090.20" stroke="#000" stroke-width="3.60" stroke-linecap="butt"/>
<line x1="1187.40" y1="1090.20" x2="1198.60" y2="1090.20" stroke="#000" stroke-width="3.60" stroke-linecap="butt"/>
<text x="1150.28" y="1098.40" textLength="16.90" lengthAdjust="spacingAndGlyphs" font-size="30.70" stroke="#000" stroke-width="0.75" stroke-linejoin="round">0</text>
<line x1="1187.40" y1="1002.54" x2="1198.60" y2="1002.54" stroke="#000" stroke-width="3.60" stroke-linecap="butt"/>
<text x="1116.48" y="1010.74" textLength="50.71" lengthAdjust="spacingAndGlyphs" font-size="30.70" stroke="#000" stroke-width="0.75" stroke-linejoin="round">500</text>
<line x1="1187.40" y1="914.88" x2="1198.60" y2="914.88" stroke="#000" stroke-width="3.60" stroke-linecap="butt"/>
<text x="1099.57" y="923.08" textLength="67.61" lengthAdjust="spacingAndGlyphs" font-size="30.70" stroke="#000" stroke-width="0.75" stroke-linejoin="round">1000</text>
<line x1="1187.40" y1="827.22" x2="1198.60" y2="827.22" stroke="#000" stroke-width="3.60" stroke-linecap="butt"/>
<text x="1099.57" y="835.42" textLength="67.61" lengthAdjust="spacingAndGlyphs" font-size="30.70" stroke="#000" stroke-width="0.75" stroke-linejoin="round">1500</text>
<line x1="1187.40" y1="739.56" x2="1198.60" y2="739.56" stroke="#000" stroke-width="3.60" stroke-linecap="butt"/>
<text x="1099.57" y="747.76" textLength="67.61" lengthAdjust="spacingAndGlyphs" font-size="30.70" stroke="#000" stroke-width="0.75" stroke-linejoin="round">2000</text>
<line x1="1187.40" y1="651.90" x2="1198.60" y2="651.90" stroke="#000" stroke-width="3.60" stroke-linecap="butt"/>
<text x="1099.57" y="660.10" textLength="67.61" lengthAdjust="spacingAndGlyphs" font-size="30.70" stroke="#000" stroke-width="0.75" stroke-linejoin="round">2500</text>
<line x1="1198.60" y1="1090.20" x2="1198.60" y2="1101.20" stroke="#000" stroke-width="3.60" stroke-linecap="butt"/>
<text x="1190.15" y="1143.80" textLength="16.90" lengthAdjust="spacingAndGlyphs" font-size="30.70" stroke="#000" stroke-width="0.75" stroke-linejoin="round">0</text>
<line x1="1379.07" y1="1090.20" x2="1379.07" y2="1101.20" stroke="#000" stroke-width="3.60" stroke-linecap="butt"/>
<text x="1370.62" y="1143.80" textLength="16.90" lengthAdjust="spacingAndGlyphs" font-size="30.70" stroke="#000" stroke-width="0.75" stroke-linejoin="round">2</text>
<line x1="1559.55" y1="1090.20" x2="1559.55" y2="1101.20" stroke="#000" stroke-width="3.60" stroke-linecap="butt"/>
<text x="1551.19" y="1143.80" textLength="16.90" lengthAdjust="spacingAndGlyphs" font-size="30.70" stroke="#000" stroke-width="0.75" stroke-linejoin="round">4</text>
<line x1="1740.03" y1="1090.20" x2="1740.03" y2="1101.20" stroke="#000" stroke-width="3.60" stroke-linecap="butt"/>
<text x="1731.47" y="1143.80" textLength="16.90" lengthAdjust="spacingAndGlyphs" font-size="30.70" stroke="#000" stroke-width="0.75" stroke-linejoin="round">6</text>
<line x1="1920.50" y1="1090.20" x2="1920.50" y2="1101.20" stroke="#000" stroke-width="3.60" stroke-linecap="butt"/>
<text x="1912.05" y="1143.80" textLength="16.90" lengthAdjust="spacingAndGlyphs" font-size="30.70" stroke="#000" stroke-width="0.75" stroke-linejoin="round">8</text>
<text x="1526.10" y="1193.00" textLength="66.19" lengthAdjust="spacingAndGlyphs" font-size="30.40" font-weight="700" stroke="#000" stroke-width="0.70" stroke-linejoin="round">Days</text>
<text transform="translate(1078.90 871.05) rotate(-90)" x="-87.93" y="0" textLength="176.12" lengthAdjust="spacingAndGlyphs" font-size="30.40" font-weight="700" stroke="#000" stroke-width="0.70" stroke-linejoin="round">Cells (x1000)</text>
<text y="687.00" font-size="46.90" font-weight="700" stroke="#000" stroke-width="0.50" stroke-linejoin="round"><tspan x="1497.04" textLength="42.22" lengthAdjust="spacingAndGlyphs">Lc</tspan><tspan x="1538.62" textLength="15.84" lengthAdjust="spacingAndGlyphs">-</tspan><tspan x="1554.21" textLength="25.28" lengthAdjust="spacingAndGlyphs">2</tspan><tspan x="1580.55" font-size="60.50" dy="6.60" textLength="20.07" lengthAdjust="spacingAndGlyphs">/</tspan><tspan x="1601.12" dy="-6.60" textLength="51.82" lengthAdjust="spacingAndGlyphs">ad</tspan></text>
<line x1="1740.03" y1="831.30" x2="1740.03" y2="892.00" stroke="#454545" stroke-width="1.15" stroke-linecap="butt"/>
<line x1="1733.83" y1="831.30" x2="1746.23" y2="831.30" stroke="#454545" stroke-width="1.15" stroke-linecap="butt"/>
<line x1="1733.83" y1="892.00" x2="1746.23" y2="892.00" stroke="#454545" stroke-width="1.15" stroke-linecap="butt"/>
<line x1="1920.50" y1="684.80" x2="1920.50" y2="708.40" stroke="#454545" stroke-width="1.15" stroke-linecap="butt"/>
<line x1="1914.30" y1="684.80" x2="1922.20" y2="684.80" stroke="#454545" stroke-width="1.15" stroke-linecap="butt"/>
<line x1="1914.30" y1="708.40" x2="1922.20" y2="708.40" stroke="#454545" stroke-width="1.15" stroke-linecap="butt"/>
<line x1="1740.03" y1="844.20" x2="1740.03" y2="866.00" stroke="#454545" stroke-width="1.15" stroke-linecap="butt"/>
<line x1="1733.83" y1="844.20" x2="1746.23" y2="844.20" stroke="#454545" stroke-width="1.15" stroke-linecap="butt"/>
<line x1="1733.83" y1="866.00" x2="1746.23" y2="866.00" stroke="#454545" stroke-width="1.15" stroke-linecap="butt"/>
<line x1="1920.50" y1="717.20" x2="1920.50" y2="742.00" stroke="#454545" stroke-width="1.15" stroke-linecap="butt"/>
<line x1="1914.30" y1="717.20" x2="1922.20" y2="717.20" stroke="#454545" stroke-width="1.15" stroke-linecap="butt"/>
<line x1="1914.30" y1="742.00" x2="1922.20" y2="742.00" stroke="#454545" stroke-width="1.15" stroke-linecap="butt"/>
<line x1="1740.03" y1="901.00" x2="1740.03" y2="916.50" stroke="#454545" stroke-width="1.15" stroke-linecap="butt"/>
<line x1="1733.83" y1="901.00" x2="1746.23" y2="901.00" stroke="#454545" stroke-width="1.15" stroke-linecap="butt"/>
<line x1="1733.83" y1="916.50" x2="1746.23" y2="916.50" stroke="#454545" stroke-width="1.15" stroke-linecap="butt"/>
<line x1="1920.50" y1="750.80" x2="1920.50" y2="782.20" stroke="#454545" stroke-width="1.15" stroke-linecap="butt"/>
<line x1="1914.30" y1="750.80" x2="1922.20" y2="750.80" stroke="#454545" stroke-width="1.15" stroke-linecap="butt"/>
<line x1="1914.30" y1="782.20" x2="1922.20" y2="782.20" stroke="#454545" stroke-width="1.15" stroke-linecap="butt"/>
<line x1="1920.50" y1="902.80" x2="1920.50" y2="923.00" stroke="#454545" stroke-width="1.15" stroke-linecap="butt"/>
<line x1="1914.30" y1="902.80" x2="1922.20" y2="902.80" stroke="#454545" stroke-width="1.15" stroke-linecap="butt"/>
<line x1="1914.30" y1="923.00" x2="1922.20" y2="923.00" stroke="#454545" stroke-width="1.15" stroke-linecap="butt"/>
<line x1="1740.03" y1="1015.90" x2="1740.03" y2="1027.10" stroke="#454545" stroke-width="1.15" stroke-linecap="butt"/>
<line x1="1733.83" y1="1015.90" x2="1746.23" y2="1015.90" stroke="#454545" stroke-width="1.15" stroke-linecap="butt"/>
<line x1="1733.83" y1="1027.10" x2="1746.23" y2="1027.10" stroke="#454545" stroke-width="1.15" stroke-linecap="butt"/>
<polyline fill="none" stroke="#000" stroke-width="3.60" stroke-linejoin="round" stroke-linecap="round" points="1198.60,1070.20 1379.07,1033.40 1559.55,971.10 1740.03,859.00 1920.50,696.70"/>
<path d="M1198.60 1062.20L1206.50 1070.20L1198.60 1078.20L1190.70 1070.20Z" stroke-linejoin="round" stroke="#000" stroke-width="1"/>
<path d="M1379.07 1025.40L1386.97 1033.40L1379.07 1041.40L1371.17 1033.40Z" stroke-linejoin="round" stroke="#000" stroke-width="1"/>
<path d="M1559.55 963.10L1567.45 971.10L1559.55 979.10L1551.65 971.10Z" stroke-linejoin="round" stroke="#000" stroke-width="1"/>
<path d="M1740.03 851.00L1747.93 859.00L1740.03 867.00L1732.12 859.00Z" stroke-linejoin="round" stroke="#000" stroke-width="1"/>
<path d="M1920.50 688.70L1928.40 696.70L1920.50 704.70L1912.60 696.70Z" stroke-linejoin="round" stroke="#000" stroke-width="1"/>
<polyline fill="none" stroke="#000" stroke-width="3.60" stroke-linejoin="round" stroke-linecap="round" points="1198.60,1070.20 1379.07,1042.00 1559.55,986.80 1740.03,865.40 1920.50,729.60"/>
<rect x="1190.45" y="1062.05" width="16.30" height="16.30" rx="1.2"/>
<rect x="1370.92" y="1033.85" width="16.30" height="16.30" rx="1.2"/>
<rect x="1551.40" y="978.65" width="16.30" height="16.30" rx="1.2"/>
<rect x="1731.88" y="857.25" width="16.30" height="16.30" rx="1.2"/>
<rect x="1912.35" y="721.45" width="16.30" height="16.30" rx="1.2"/>
<polyline fill="none" stroke="#000" stroke-width="3.60" stroke-linejoin="round" stroke-linecap="round" points="1198.60,1070.20 1379.07,1045.80 1559.55,999.20 1740.03,906.00 1920.50,767.00"/>
<path d="M1198.60 1062.30L1206.50 1077.80L1190.70 1077.80Z" stroke-linejoin="round" stroke="#000" stroke-width="1"/>
<path d="M1379.07 1037.90L1386.97 1053.40L1371.17 1053.40Z" stroke-linejoin="round" stroke="#000" stroke-width="1"/>
<path d="M1559.55 991.30L1567.45 1006.80L1551.65 1006.80Z" stroke-linejoin="round" stroke="#000" stroke-width="1"/>
<path d="M1740.03 898.10L1747.93 913.60L1732.12 913.60Z" stroke-linejoin="round" stroke="#000" stroke-width="1"/>
<path d="M1920.50 759.10L1928.40 774.60L1912.60 774.60Z" stroke-linejoin="round" stroke="#000" stroke-width="1"/>
<polyline fill="none" stroke="#000" stroke-width="3.60" stroke-linejoin="round" stroke-linecap="round" points="1198.60,1070.20 1379.07,1050.80 1559.55,1018.90 1740.03,984.80 1920.50,913.00"/>
<circle cx="1198.60" cy="1070.20" r="8.20"/>
<circle cx="1379.07" cy="1050.80" r="8.20"/>
<circle cx="1559.55" cy="1018.90" r="8.20"/>
<circle cx="1740.03" cy="984.80" r="8.20"/>
<circle cx="1920.50" cy="913.00" r="8.20"/>
<polyline fill="none" stroke="#000" stroke-width="3.60" stroke-linejoin="round" stroke-linecap="round" points="1198.60,1070.20 1379.07,1056.50 1559.55,1040.30 1740.03,1021.40 1920.50,997.20"/>
<rect x="1190.40" y="1067.30" width="16.40" height="5.80" rx="1.4"/>
<rect x="1370.87" y="1053.60" width="16.40" height="5.80" rx="1.4"/>
<rect x="1551.35" y="1037.40" width="16.40" height="5.80" rx="1.4"/>
<rect x="1731.83" y="1018.50" width="16.40" height="5.80" rx="1.4"/>
<rect x="1912.30" y="994.30" width="16.40" height="5.80" rx="1.4"/>
<line x1="1251.00" y1="675.30" x2="1304.90" y2="675.30" stroke="#000" stroke-width="3.60" stroke-linecap="round"/>
<path d="M1277.80 667.30L1285.70 675.30L1277.80 683.30L1269.90 675.30Z" stroke-linejoin="round" stroke="#000" stroke-width="1"/>
<text y="683.40" font-size="26.30" stroke="#000" stroke-width="0.75" stroke-linejoin="round"><tspan x="1310.38" textLength="32.89" lengthAdjust="spacingAndGlyphs">NT</tspan></text>
<line x1="1251.00" y1="737.10" x2="1304.90" y2="737.10" stroke="#000" stroke-width="3.60" stroke-linecap="round"/>
<rect x="1269.65" y="728.95" width="16.30" height="16.30" rx="1.2"/>
<text y="745.20" font-size="26.30" stroke="#000" stroke-width="0.75" stroke-linejoin="round"><tspan x="1310.24" textLength="14.32" lengthAdjust="spacingAndGlyphs">1</tspan> <tspan x="1331.11" textLength="39.64" lengthAdjust="spacingAndGlyphs">nM</tspan></text>
<line x1="1251.00" y1="798.90" x2="1304.90" y2="798.90" stroke="#000" stroke-width="3.60" stroke-linecap="round"/>
<path d="M1277.80 791.00L1285.70 806.50L1269.90 806.50Z" stroke-linejoin="round" stroke="#000" stroke-width="1"/>
<text y="807.00" font-size="26.30" stroke="#000" stroke-width="0.75" stroke-linejoin="round"><tspan x="1311.31" textLength="13.02" lengthAdjust="spacingAndGlyphs">3</tspan> <tspan x="1331.11" textLength="39.64" lengthAdjust="spacingAndGlyphs">nM</tspan></text>
<line x1="1251.00" y1="860.70" x2="1304.90" y2="860.70" stroke="#000" stroke-width="3.60" stroke-linecap="round"/>
<circle cx="1277.80" cy="860.70" r="8.20"/>
<text y="868.80" font-size="26.30" stroke="#000" stroke-width="0.75" stroke-linejoin="round"><tspan x="1310.25" textLength="28.45" lengthAdjust="spacingAndGlyphs">10</tspan> <tspan x="1345.51" textLength="39.64" lengthAdjust="spacingAndGlyphs">nM</tspan></text>
<line x1="1251.00" y1="922.50" x2="1304.90" y2="922.50" stroke="#000" stroke-width="3.60" stroke-linecap="round"/>
<rect x="1269.60" y="919.60" width="16.40" height="5.80" rx="1.4"/>
<text y="930.60" font-size="26.30" stroke="#000" stroke-width="0.75" stroke-linejoin="round"><tspan x="1311.26" textLength="27.40" lengthAdjust="spacingAndGlyphs">30</tspan> <tspan x="1345.51" textLength="39.64" lengthAdjust="spacingAndGlyphs">nM</tspan></text>
<line x1="146.50" y1="1286.70" x2="146.50" y2="1728.80" stroke="#000" stroke-width="3.60" stroke-linecap="butt"/>
<line x1="135.30" y1="1727.00" x2="829.40" y2="1727.00" stroke="#000" stroke-width="3.60" stroke-linecap="butt"/>
<line x1="135.30" y1="1727.00" x2="146.50" y2="1727.00" stroke="#000" stroke-width="3.60" stroke-linecap="butt"/>
<text x="98.58" y="1735.30" textLength="16.90" lengthAdjust="spacingAndGlyphs" font-size="30.70" stroke="#000" stroke-width="0.75" stroke-linejoin="round">0</text>
<line x1="135.30" y1="1678.28" x2="146.50" y2="1678.28" stroke="#000" stroke-width="3.60" stroke-linecap="butt"/>
<text x="64.78" y="1686.73" textLength="50.71" lengthAdjust="spacingAndGlyphs" font-size="30.70" stroke="#000" stroke-width="0.75" stroke-linejoin="round">100</text>
<line x1="135.30" y1="1629.56" x2="146.50" y2="1629.56" stroke="#000" stroke-width="3.60" stroke-linecap="butt"/>
<text x="64.78" y="1638.17" textLength="50.71" lengthAdjust="spacingAndGlyphs" font-size="30.70" stroke="#000" stroke-width="0.75" stroke-linejoin="round">200</text>
<line x1="135.30" y1="1580.83" x2="146.50" y2="1580.83" stroke="#000" stroke-width="3.60" stroke-linecap="butt"/>
<text x="64.78" y="1589.60" textLength="50.71" lengthAdjust="spacingAndGlyphs" font-size="30.70" stroke="#000" stroke-width="0.75" stroke-linejoin="round">300</text>
<line x1="135.30" y1="1532.11" x2="146.50" y2="1532.11" stroke="#000" stroke-width="3.60" stroke-linecap="butt"/>
<text x="64.78" y="1541.03" textLength="50.71" lengthAdjust="spacingAndGlyphs" font-size="30.70" stroke="#000" stroke-width="0.75" stroke-linejoin="round">400</text>
<line x1="135.30" y1="1483.39" x2="146.50" y2="1483.39" stroke="#000" stroke-width="3.60" stroke-linecap="butt"/>
<text x="64.78" y="1492.47" textLength="50.71" lengthAdjust="spacingAndGlyphs" font-size="30.70" stroke="#000" stroke-width="0.75" stroke-linejoin="round">500</text>
<line x1="135.30" y1="1434.67" x2="146.50" y2="1434.67" stroke="#000" stroke-width="3.60" stroke-linecap="butt"/>
<text x="64.78" y="1443.90" textLength="50.71" lengthAdjust="spacingAndGlyphs" font-size="30.70" stroke="#000" stroke-width="0.75" stroke-linejoin="round">600</text>
<line x1="135.30" y1="1385.94" x2="146.50" y2="1385.94" stroke="#000" stroke-width="3.60" stroke-linecap="butt"/>
<text x="64.78" y="1395.33" textLength="50.71" lengthAdjust="spacingAndGlyphs" font-size="30.70" stroke="#000" stroke-width="0.75" stroke-linejoin="round">700</text>
<line x1="135.30" y1="1337.22" x2="146.50" y2="1337.22" stroke="#000" stroke-width="3.60" stroke-linecap="butt"/>
<text x="64.78" y="1346.77" textLength="50.71" lengthAdjust="spacingAndGlyphs" font-size="30.70" stroke="#000" stroke-width="0.75" stroke-linejoin="round">800</text>
<line x1="135.30" y1="1288.50" x2="146.50" y2="1288.50" stroke="#000" stroke-width="3.60" stroke-linecap="butt"/>
<text x="64.78" y="1298.20" textLength="50.71" lengthAdjust="spacingAndGlyphs" font-size="30.70" stroke="#000" stroke-width="0.75" stroke-linejoin="round">900</text>
<line x1="146.50" y1="1727.00" x2="146.50" y2="1738.00" stroke="#000" stroke-width="3.60" stroke-linecap="butt"/>
<text x="138.05" y="1779.70" textLength="16.90" lengthAdjust="spacingAndGlyphs" font-size="30.70" stroke="#000" stroke-width="0.75" stroke-linejoin="round">0</text>
<line x1="316.77" y1="1727.00" x2="316.77" y2="1738.00" stroke="#000" stroke-width="3.60" stroke-linecap="butt"/>
<text x="308.41" y="1779.70" textLength="16.90" lengthAdjust="spacingAndGlyphs" font-size="30.70" stroke="#000" stroke-width="0.75" stroke-linejoin="round">3</text>
<line x1="487.05" y1="1727.00" x2="487.05" y2="1738.00" stroke="#000" stroke-width="3.60" stroke-linecap="butt"/>
<text x="478.49" y="1779.70" textLength="16.90" lengthAdjust="spacingAndGlyphs" font-size="30.70" stroke="#000" stroke-width="0.75" stroke-linejoin="round">6</text>
<line x1="657.33" y1="1727.00" x2="657.33" y2="1738.00" stroke="#000" stroke-width="3.60" stroke-linecap="butt"/>
<text x="648.88" y="1779.70" textLength="16.90" lengthAdjust="spacingAndGlyphs" font-size="30.70" stroke="#000" stroke-width="0.75" stroke-linejoin="round">9</text>
<line x1="827.60" y1="1727.00" x2="827.60" y2="1738.00" stroke="#000" stroke-width="3.60" stroke-linecap="butt"/>
<text x="810.30" y="1779.70" textLength="33.81" lengthAdjust="spacingAndGlyphs" font-size="30.70" stroke="#000" stroke-width="0.75" stroke-linejoin="round">12</text>
<text x="453.60" y="1829.00" textLength="66.19" lengthAdjust="spacingAndGlyphs" font-size="30.40" font-weight="700" stroke="#000" stroke-width="0.70" stroke-linejoin="round">Days</text>
<text transform="translate(46.00 1507.75) rotate(-90)" x="-87.93" y="0" textLength="176.12" lengthAdjust="spacingAndGlyphs" font-size="30.40" font-weight="700" stroke="#000" stroke-width="0.70" stroke-linejoin="round">Cells (x1000)</text>
<text y="1324.10" font-size="46.90" font-weight="700" stroke="#000" stroke-width="0.50" stroke-linejoin="round"><tspan x="436.19" textLength="68.77" lengthAdjust="spacingAndGlyphs">MZ</tspan><tspan x="503.35" textLength="16.31" lengthAdjust="spacingAndGlyphs">-</tspan><tspan x="519.01" textLength="82.48" lengthAdjust="spacingAndGlyphs">CRC</tspan><tspan x="600.55" textLength="16.47" lengthAdjust="spacingAndGlyphs">-</tspan><tspan x="618.38" textLength="23.30" lengthAdjust="spacingAndGlyphs">1</tspan></text>
<line x1="487.05" y1="1545.00" x2="487.05" y2="1575.00" stroke="#454545" stroke-width="1.15" stroke-linecap="butt"/>
<line x1="480.85" y1="1545.00" x2="493.25" y2="1545.00" stroke="#454545" stroke-width="1.15" stroke-linecap="butt"/>
<line x1="480.85" y1="1575.00" x2="493.25" y2="1575.00" stroke="#454545" stroke-width="1.15" stroke-linecap="butt"/>
<line x1="657.33" y1="1460.00" x2="657.33" y2="1488.40" stroke="#454545" stroke-width="1.15" stroke-linecap="butt"/>
<line x1="651.12" y1="1460.00" x2="663.53" y2="1460.00" stroke="#454545" stroke-width="1.15" stroke-linecap="butt"/>
<line x1="651.12" y1="1488.40" x2="663.53" y2="1488.40" stroke="#454545" stroke-width="1.15" stroke-linecap="butt"/>
<line x1="827.60" y1="1351.40" x2="827.60" y2="1397.20" stroke="#454545" stroke-width="1.15" stroke-linecap="butt"/>
<line x1="821.40" y1="1351.40" x2="829.30" y2="1351.40" stroke="#454545" stroke-width="1.15" stroke-linecap="butt"/>
<line x1="821.40" y1="1397.20" x2="829.30" y2="1397.20" stroke="#454545" stroke-width="1.15" stroke-linecap="butt"/>
<line x1="827.60" y1="1362.60" x2="827.60" y2="1387.00" stroke="#454545" stroke-width="1.15" stroke-linecap="butt"/>
<line x1="821.40" y1="1362.60" x2="829.30" y2="1362.60" stroke="#454545" stroke-width="1.15" stroke-linecap="butt"/>
<line x1="821.40" y1="1387.00" x2="829.30" y2="1387.00" stroke="#454545" stroke-width="1.15" stroke-linecap="butt"/>
<line x1="487.05" y1="1586.80" x2="487.05" y2="1612.80" stroke="#454545" stroke-width="1.15" stroke-linecap="butt"/>
<line x1="480.85" y1="1586.80" x2="493.25" y2="1586.80" stroke="#454545" stroke-width="1.15" stroke-linecap="butt"/>
<line x1="480.85" y1="1612.80" x2="493.25" y2="1612.80" stroke="#454545" stroke-width="1.15" stroke-linecap="butt"/>
<line x1="657.33" y1="1488.40" x2="657.33" y2="1557.00" stroke="#454545" stroke-width="1.15" stroke-linecap="butt"/>
<line x1="651.12" y1="1488.40" x2="663.53" y2="1488.40" stroke="#454545" stroke-width="1.15" stroke-linecap="butt"/>
<line x1="651.12" y1="1557.00" x2="663.53" y2="1557.00" stroke="#454545" stroke-width="1.15" stroke-linecap="butt"/>
<line x1="827.60" y1="1404.40" x2="827.60" y2="1419.40" stroke="#454545" stroke-width="1.15" stroke-linecap="butt"/>
<line x1="821.40" y1="1404.40" x2="829.30" y2="1404.40" stroke="#454545" stroke-width="1.15" stroke-linecap="butt"/>
<line x1="821.40" y1="1419.40" x2="829.30" y2="1419.40" stroke="#454545" stroke-width="1.15" stroke-linecap="butt"/>
<line x1="487.05" y1="1612.00" x2="487.05" y2="1639.00" stroke="#454545" stroke-width="1.15" stroke-linecap="butt"/>
<line x1="480.85" y1="1612.00" x2="493.25" y2="1612.00" stroke="#454545" stroke-width="1.15" stroke-linecap="butt"/>
<line x1="480.85" y1="1639.00" x2="493.25" y2="1639.00" stroke="#454545" stroke-width="1.15" stroke-linecap="butt"/>
<line x1="657.33" y1="1517.70" x2="657.33" y2="1570.00" stroke="#454545" stroke-width="1.15" stroke-linecap="butt"/>
<line x1="651.12" y1="1517.70" x2="663.53" y2="1517.70" stroke="#454545" stroke-width="1.15" stroke-linecap="butt"/>
<line x1="651.12" y1="1570.00" x2="663.53" y2="1570.00" stroke="#454545" stroke-width="1.15" stroke-linecap="butt"/>
<line x1="487.05" y1="1649.60" x2="487.05" y2="1657.00" stroke="#454545" stroke-width="1.15" stroke-linecap="butt"/>
<line x1="480.85" y1="1649.60" x2="493.25" y2="1649.60" stroke="#454545" stroke-width="1.15" stroke-linecap="butt"/>
<line x1="480.85" y1="1657.00" x2="493.25" y2="1657.00" stroke="#454545" stroke-width="1.15" stroke-linecap="butt"/>
<line x1="657.33" y1="1621.70" x2="657.33" y2="1639.70" stroke="#454545" stroke-width="1.15" stroke-linecap="butt"/>
<line x1="651.12" y1="1621.70" x2="663.53" y2="1621.70" stroke="#454545" stroke-width="1.15" stroke-linecap="butt"/>
<line x1="651.12" y1="1639.70" x2="663.53" y2="1639.70" stroke="#454545" stroke-width="1.15" stroke-linecap="butt"/>
<line x1="827.60" y1="1634.20" x2="827.60" y2="1662.00" stroke="#454545" stroke-width="1.15" stroke-linecap="butt"/>
<line x1="821.40" y1="1634.20" x2="829.30" y2="1634.20" stroke="#454545" stroke-width="1.15" stroke-linecap="butt"/>
<line x1="821.40" y1="1662.00" x2="829.30" y2="1662.00" stroke="#454545" stroke-width="1.15" stroke-linecap="butt"/>
<polyline fill="none" stroke="#000" stroke-width="3.60" stroke-linejoin="round" stroke-linecap="round" points="146.50,1685.70 316.77,1649.60 487.05,1558.70 657.33,1473.00 827.60,1373.00"/>
<path d="M146.50 1677.70L154.40 1685.70L146.50 1693.70L138.60 1685.70Z" stroke-linejoin="round" stroke="#000" stroke-width="1"/>
<path d="M316.77 1641.60L324.67 1649.60L316.77 1657.60L308.88 1649.60Z" stroke-linejoin="round" stroke="#000" stroke-width="1"/>
<path d="M487.05 1550.70L494.95 1558.70L487.05 1566.70L479.15 1558.70Z" stroke-linejoin="round" stroke="#000" stroke-width="1"/>
<path d="M657.33 1465.00L665.23 1473.00L657.33 1481.00L649.43 1473.00Z" stroke-linejoin="round" stroke="#000" stroke-width="1"/>
<path d="M827.60 1365.00L835.50 1373.00L827.60 1381.00L819.70 1373.00Z" stroke-linejoin="round" stroke="#000" stroke-width="1"/>
<polyline fill="none" stroke="#000" stroke-width="3.60" stroke-linejoin="round" stroke-linecap="round" points="146.50,1685.70 316.77,1655.80 487.05,1562.00 657.33,1473.40 827.60,1373.30"/>
<rect x="138.35" y="1677.55" width="16.30" height="16.30" rx="1.2"/>
<rect x="308.62" y="1647.65" width="16.30" height="16.30" rx="1.2"/>
<rect x="478.90" y="1553.85" width="16.30" height="16.30" rx="1.2"/>
<rect x="649.18" y="1465.25" width="16.30" height="16.30" rx="1.2"/>
<rect x="819.45" y="1365.15" width="16.30" height="16.30" rx="1.2"/>
<polyline fill="none" stroke="#000" stroke-width="3.60" stroke-linejoin="round" stroke-linecap="round" points="146.50,1685.70 316.77,1658.00 487.05,1599.80 657.33,1521.50 827.60,1411.90"/>
<path d="M146.50 1677.80L154.40 1693.30L138.60 1693.30Z" stroke-linejoin="round" stroke="#000" stroke-width="1"/>
<path d="M316.77 1650.10L324.67 1665.60L308.88 1665.60Z" stroke-linejoin="round" stroke="#000" stroke-width="1"/>
<path d="M487.05 1591.90L494.95 1607.40L479.15 1607.40Z" stroke-linejoin="round" stroke="#000" stroke-width="1"/>
<path d="M657.33 1513.60L665.23 1529.10L649.43 1529.10Z" stroke-linejoin="round" stroke="#000" stroke-width="1"/>
<path d="M827.60 1404.00L835.50 1419.50L819.70 1419.50Z" stroke-linejoin="round" stroke="#000" stroke-width="1"/>
<polyline fill="none" stroke="#000" stroke-width="3.60" stroke-linejoin="round" stroke-linecap="round" points="146.50,1685.70 316.77,1662.00 487.05,1622.20 657.33,1543.70 827.60,1418.90"/>
<circle cx="146.50" cy="1685.70" r="8.20"/>
<circle cx="316.77" cy="1662.00" r="8.20"/>
<circle cx="487.05" cy="1622.20" r="8.20"/>
<circle cx="657.33" cy="1543.70" r="8.20"/>
<circle cx="827.60" cy="1418.90" r="8.20"/>
<polyline fill="none" stroke="#000" stroke-width="3.60" stroke-linejoin="round" stroke-linecap="round" points="146.50,1685.70 316.77,1663.30 487.05,1652.60 657.33,1630.20 827.60,1647.60"/>
<rect x="138.30" y="1682.80" width="16.40" height="5.80" rx="1.4"/>
<rect x="308.57" y="1660.40" width="16.40" height="5.80" rx="1.4"/>
<rect x="478.85" y="1649.70" width="16.40" height="5.80" rx="1.4"/>
<rect x="649.12" y="1627.30" width="16.40" height="5.80" rx="1.4"/>
<rect x="819.40" y="1644.70" width="16.40" height="5.80" rx="1.4"/>
<polyline fill="none" stroke="#000" stroke-width="3.60" stroke-linejoin="round" stroke-linecap="round" stroke-dasharray="6.6 7.65" points="146.50,1685.70 316.77,1675.00 487.05,1670.80 657.33,1661.60 827.60,1701.40"/>
<path d="M146.50 1677.70L154.40 1685.70L146.50 1693.70L138.60 1685.70Z" stroke-linejoin="round" stroke="#000" stroke-width="1"/>
<path d="M316.77 1667.00L324.67 1675.00L316.77 1683.00L308.88 1675.00Z" stroke-linejoin="round" stroke="#000" stroke-width="1"/>
<path d="M487.05 1662.80L494.95 1670.80L487.05 1678.80L479.15 1670.80Z" stroke-linejoin="round" stroke="#000" stroke-width="1"/>
<path d="M657.33 1653.60L665.23 1661.60L657.33 1669.60L649.43 1661.60Z" stroke-linejoin="round" stroke="#000" stroke-width="1"/>
<path d="M827.60 1693.40L835.50 1701.40L827.60 1709.40L819.70 1701.40Z" stroke-linejoin="round" stroke="#000" stroke-width="1"/>
<line x1="174.80" y1="1324.70" x2="245.50" y2="1324.70" stroke="#000" stroke-width="3.60" stroke-linecap="round"/>
<path d="M209.30 1316.70L217.20 1324.70L209.30 1332.70L201.40 1324.70Z" stroke-linejoin="round" stroke="#000" stroke-width="1"/>
<text y="1332.80" font-size="26.30" stroke="#000" stroke-width="0.75" stroke-linejoin="round"><tspan x="252.68" textLength="32.89" lengthAdjust="spacingAndGlyphs">NT</tspan></text>
<line x1="174.80" y1="1382.56" x2="245.50" y2="1382.56" stroke="#000" stroke-width="3.60" stroke-linecap="round"/>
<rect x="201.15" y="1374.41" width="16.30" height="16.30" rx="1.2"/>
<text y="1390.66" font-size="26.30" stroke="#000" stroke-width="0.75" stroke-linejoin="round"><tspan x="253.56" textLength="27.40" lengthAdjust="spacingAndGlyphs">30</tspan> <tspan x="287.81" textLength="39.64" lengthAdjust="spacingAndGlyphs">nM</tspan></text>
<line x1="174.80" y1="1440.42" x2="245.50" y2="1440.42" stroke="#000" stroke-width="3.60" stroke-linecap="round"/>
<path d="M209.30 1432.52L217.20 1448.02L201.40 1448.02Z" stroke-linejoin="round" stroke="#000" stroke-width="1"/>
<text y="1448.52" font-size="26.30" stroke="#000" stroke-width="0.75" stroke-linejoin="round"><tspan x="252.54" textLength="42.86" lengthAdjust="spacingAndGlyphs">100</tspan> <tspan x="302.21" textLength="39.64" lengthAdjust="spacingAndGlyphs">nM</tspan></text>
<line x1="174.80" y1="1498.28" x2="245.50" y2="1498.28" stroke="#000" stroke-width="3.60" stroke-linecap="round"/>
<circle cx="209.30" cy="1498.28" r="8.20"/>
<text y="1506.38" font-size="26.30" stroke="#000" stroke-width="0.75" stroke-linejoin="round"><tspan x="253.55" textLength="41.83" lengthAdjust="spacingAndGlyphs">300</tspan> <tspan x="302.21" textLength="39.64" lengthAdjust="spacingAndGlyphs">nM</tspan></text>
<line x1="174.80" y1="1556.14" x2="245.50" y2="1556.14" stroke="#000" stroke-width="3.60" stroke-linecap="round"/>
<rect x="201.10" y="1553.24" width="16.40" height="5.80" rx="1.4"/>
<text y="1564.24" font-size="26.30" stroke="#000" stroke-width="0.75" stroke-linejoin="round"><tspan x="252.54" textLength="57.27" lengthAdjust="spacingAndGlyphs">1000</tspan> <tspan x="316.61" textLength="39.64" lengthAdjust="spacingAndGlyphs">nM</tspan></text>
<line x1="174.80" y1="1614.00" x2="245.50" y2="1614.00" stroke="#000" stroke-width="3.60" stroke-linecap="round" stroke-dasharray="6.6 7.65"/>
<path d="M209.30 1606.00L217.20 1614.00L209.30 1622.00L201.40 1614.00Z" stroke-linejoin="round" stroke="#000" stroke-width="1"/>
<text y="1622.10" font-size="26.30" stroke="#000" stroke-width="0.75" stroke-linejoin="round"><tspan x="253.54" textLength="56.25" lengthAdjust="spacingAndGlyphs">3000</tspan> <tspan x="316.61" textLength="39.64" lengthAdjust="spacingAndGlyphs">nM</tspan></text>
<line x1="1061.10" y1="1324.40" x2="2006.00" y2="1324.40" stroke="#000" stroke-width="2.60" stroke-linecap="butt"/>
<line x1="1061.10" y1="1404.20" x2="2006.00" y2="1404.20" stroke="#000" stroke-width="2.60" stroke-linecap="butt"/>
<line x1="1061.10" y1="1484.00" x2="2006.00" y2="1484.00" stroke="#000" stroke-width="2.60" stroke-linecap="butt"/>
<line x1="1061.10" y1="1563.80" x2="2006.00" y2="1563.80" stroke="#000" stroke-width="2.60" stroke-linecap="butt"/>
<line x1="1061.10" y1="1643.60" x2="2006.00" y2="1643.60" stroke="#000" stroke-width="2.60" stroke-linecap="butt"/>
<line x1="1061.10" y1="1723.40" x2="2006.00" y2="1723.40" stroke="#000" stroke-width="2.60" stroke-linecap="butt"/>
<line x1="1061.10" y1="1803.20" x2="2006.00" y2="1803.20" stroke="#000" stroke-width="2.60" stroke-linecap="butt"/>
<line x1="1062.40" y1="1324.40" x2="1062.40" y2="1803.20" stroke="#000" stroke-width="2.60" stroke-linecap="butt"/>
<line x1="1510.10" y1="1324.40" x2="1510.10" y2="1803.20" stroke="#000" stroke-width="2.60" stroke-linecap="butt"/>
<line x1="2004.70" y1="1324.40" x2="2004.70" y2="1803.20" stroke="#000" stroke-width="2.60" stroke-linecap="butt"/>
<text y="1377.30" font-size="36.90" font-weight="700" stroke="#000" stroke-width="0.40" stroke-linejoin="round"><tspan x="1211.99" textLength="73.75" lengthAdjust="spacingAndGlyphs">Cell</tspan> <tspan x="1293.92" textLength="66.28" lengthAdjust="spacingAndGlyphs">line</tspan></text>
<text y="1457.10" font-size="36.90" font-weight="700" stroke="#000" stroke-width="0.40" stroke-linejoin="round"><tspan x="1118.45" textLength="100.44" lengthAdjust="spacingAndGlyphs">KM12</tspan> <tspan x="1225.58" textLength="228.49" lengthAdjust="spacingAndGlyphs">(TPM3-TRKA)</tspan></text>
<text y="1536.90" font-size="36.90" font-weight="700" stroke="#000" stroke-width="0.40" stroke-linejoin="round"><tspan x="1111.86" textLength="100.51" lengthAdjust="spacingAndGlyphs">TPC-1</tspan> <tspan x="1222.51" textLength="239.12" lengthAdjust="spacingAndGlyphs">(CCDC6-RET)</tspan></text>
<text y="1616.70" font-size="36.90" font-weight="700" stroke="#000" stroke-width="0.40" stroke-linejoin="round"><tspan x="1148.03" textLength="36.79" lengthAdjust="spacingAndGlyphs">TT</tspan> <tspan x="1195.74" textLength="80.05" lengthAdjust="spacingAndGlyphs">(RET</tspan> <tspan x="1283.81" textLength="141.27" lengthAdjust="spacingAndGlyphs">C634W)</tspan></text>
<text y="1696.50" font-size="36.90" font-weight="700" stroke="#000" stroke-width="0.40" stroke-linejoin="round"><tspan x="1095.99" textLength="133.88" lengthAdjust="spacingAndGlyphs">Lc-2/ad</tspan> <tspan x="1237.45" textLength="239.12" lengthAdjust="spacingAndGlyphs">(CCDC6-RET)</tspan></text>
<text y="1776.30" font-size="36.90" font-weight="700" stroke="#000" stroke-width="0.40" stroke-linejoin="round"><tspan x="1083.64" textLength="177.11" lengthAdjust="spacingAndGlyphs">MZ-CRC-1</tspan> <tspan x="1271.72" textLength="80.05" lengthAdjust="spacingAndGlyphs">(RET</tspan> <tspan x="1360.13" textLength="128.42" lengthAdjust="spacingAndGlyphs">M918T)</tspan></text>
<text y="1457.10" font-size="36.90" stroke="#000" stroke-width="0.50" stroke-linejoin="round"><tspan x="1608.41" textLength="54.79" lengthAdjust="spacingAndGlyphs">2.6</tspan> <tspan x="1670.83" textLength="54.11" lengthAdjust="spacingAndGlyphs">nM</tspan> <tspan x="1732.59" textLength="99.39" lengthAdjust="spacingAndGlyphs">(1.7-4</tspan> <tspan x="1840.81" textLength="65.15" lengthAdjust="spacingAndGlyphs">nM)</tspan></text>
<text y="1536.90" font-size="36.90" stroke="#000" stroke-width="0.50" stroke-linejoin="round"><tspan x="1593.31" textLength="53.63" lengthAdjust="spacingAndGlyphs">4.8</tspan> <tspan x="1655.12" textLength="54.39" lengthAdjust="spacingAndGlyphs">nM</tspan> <tspan x="1715.87" textLength="132.81" lengthAdjust="spacingAndGlyphs">(2.8-8.5</tspan> <tspan x="1855.73" textLength="65.95" lengthAdjust="spacingAndGlyphs">nM)</tspan></text>
<text y="1616.70" font-size="36.90" stroke="#000" stroke-width="0.50" stroke-linejoin="round"><tspan x="1593.98" textLength="53.21" lengthAdjust="spacingAndGlyphs">3.7</tspan> <tspan x="1655.91" textLength="53.56" lengthAdjust="spacingAndGlyphs">nM</tspan> <tspan x="1716.39" textLength="131.73" lengthAdjust="spacingAndGlyphs">(1.7-7.9</tspan> <tspan x="1855.73" textLength="65.95" lengthAdjust="spacingAndGlyphs">nM)</tspan></text>
<text y="1696.50" font-size="36.90" stroke="#000" stroke-width="0.50" stroke-linejoin="round"><tspan x="1573.30" textLength="75.60" lengthAdjust="spacingAndGlyphs">10.4</tspan> <tspan x="1656.89" textLength="53.83" lengthAdjust="spacingAndGlyphs">nM</tspan> <tspan x="1717.16" textLength="151.63" lengthAdjust="spacingAndGlyphs">(6.9-15.9</tspan> <tspan x="1876.18" textLength="65.42" lengthAdjust="spacingAndGlyphs">nM)</tspan></text>
<text y="1776.30" font-size="36.90" stroke="#000" stroke-width="0.50" stroke-linejoin="round"><tspan x="1529.97" textLength="95.73" lengthAdjust="spacingAndGlyphs">600.5</tspan> <tspan x="1634.47" textLength="53.83" lengthAdjust="spacingAndGlyphs">nM</tspan> <tspan x="1695.22" textLength="216.04" lengthAdjust="spacingAndGlyphs">(595.3-715.2</tspan> <tspan x="1918.76" textLength="65.95" lengthAdjust="spacingAndGlyphs">nM)</tspan></text>
<text y="1377.30" font-size="36.90" font-weight="700" stroke="#000" stroke-width="0.4"><tspan x="1672.64" textLength="37.68" lengthAdjust="spacingAndGlyphs">IC</tspan><tspan x="1712.49" dy="8.6" font-size="24.17" textLength="28.50" lengthAdjust="spacingAndGlyphs">50</tspan> <tspan x="1753.32" dy="-8.6" textLength="88.81" lengthAdjust="spacingAndGlyphs">dose</tspan></text>
</svg>
</body></html>
